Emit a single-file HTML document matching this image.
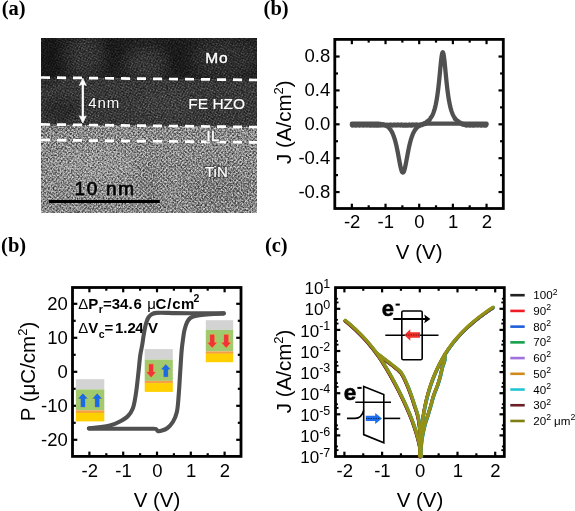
<!DOCTYPE html>
<html><head><meta charset="utf-8"><style>
html,body{margin:0;padding:0;background:#fff;}
svg{display:block;will-change:transform;}
</style></head><body>
<svg width="575" height="511" viewBox="0 0 575 511">
<rect width="575" height="511" fill="#fff"/>
<text x="1.8" y="15.0" font-family='"Liberation Serif", serif' font-weight="bold" font-size="20.5">(a)</text>
<text x="263.6" y="15.0" font-family='"Liberation Serif", serif' font-weight="bold" font-size="20.5">(b)</text>
<text x="1.1" y="251.6" font-family='"Liberation Serif", serif' font-weight="bold" font-size="20.5">(b)</text>
<text x="264.9" y="251.6" font-family='"Liberation Serif", serif' font-weight="bold" font-size="20.5">(c)</text>
<defs>
<filter id="nz" x="0" y="0" width="100%" height="100%" color-interpolation-filters="sRGB"><feTurbulence type="fractalNoise" baseFrequency="0.6" numOctaves="2" seed="5"/><feColorMatrix type="matrix" values="1 0 0 0 0  1 0 0 0 0  1 0 0 0 0  0 0 0 0 1"/><feComponentTransfer><feFuncR type="linear" slope="2.0" intercept="-0.5"/><feFuncG type="linear" slope="2.0" intercept="-0.5"/><feFuncB type="linear" slope="2.0" intercept="-0.5"/></feComponentTransfer></filter>
<filter id="nzc" x="0" y="0" width="100%" height="100%" color-interpolation-filters="sRGB"><feTurbulence type="fractalNoise" baseFrequency="0.05" numOctaves="2" seed="11"/><feColorMatrix type="matrix" values="1 0 0 0 0  1 0 0 0 0  1 0 0 0 0  0 0 0 0 1"/><feComponentTransfer><feFuncR type="linear" slope="1.8" intercept="-0.4"/><feFuncG type="linear" slope="1.8" intercept="-0.4"/><feFuncB type="linear" slope="1.8" intercept="-0.4"/></feComponentTransfer></filter>
<filter id="nz2" x="0" y="0" width="100%" height="100%" color-interpolation-filters="sRGB"><feTurbulence type="fractalNoise" baseFrequency="0.8" numOctaves="1" seed="17"/><feColorMatrix type="matrix" values="1 0 0 0 0  1 0 0 0 0  1 0 0 0 0  0 0 0 0 1"/><feComponentTransfer><feFuncR type="gamma" amplitude="1" exponent="3" offset="0"/><feFuncG type="gamma" amplitude="1" exponent="3" offset="0"/><feFuncB type="gamma" amplitude="1" exponent="3" offset="0"/></feComponentTransfer><feComponentTransfer><feFuncR type="linear" slope="3.2" intercept="0.1"/><feFuncG type="linear" slope="3.2" intercept="0.1"/><feFuncB type="linear" slope="3.2" intercept="0.1"/></feComponentTransfer></filter>
<filter id="blur6"><feGaussianBlur stdDeviation="6"/></filter>
<radialGradient id="dot"><stop offset="0" stop-color="#fff"/><stop offset="0.55" stop-color="#aaa"/><stop offset="1" stop-color="#000"/></radialGradient>
<pattern id="lat1" width="2.9" height="2.9" patternUnits="userSpaceOnUse" patternTransform="rotate(42)"><rect width="2.9" height="2.9" fill="#000"/><circle cx="1.45" cy="1.45" r="1.45" fill="url(#dot)"/></pattern>
<pattern id="lat2" width="2.6" height="2.6" patternUnits="userSpaceOnUse" patternTransform="rotate(28)"><rect width="2.6" height="2.6" fill="#000"/><circle cx="1.3" cy="1.3" r="1.3" fill="url(#dot)"/></pattern>
<clipPath id="temclip"><rect x="41" y="38" width="216" height="175"/></clipPath>
<clipPath id="lowclip"><polygon points="41,124.4 257,127.1 257,213 41,213"/></clipPath>
<clipPath id="upclip"><polygon points="41,38 257,38 257,127.1 41,124.4"/></clipPath>
</defs>
<g clip-path="url(#temclip)">
<polygon points="41.0,38.0 257.0,38.0 257.0,80.0 41.0,77.5" fill="#242424" />
<polygon points="41.0,77.5 257.0,80.0 257.0,127.1 41.0,124.4" fill="#404040" />
<polygon points="41.0,124.4 257.0,127.1 257.0,142.4 41.0,140.0" fill="#949494" />
<polygon points="41.0,140.0 257.0,142.4 257.0,213.0 41.0,213.0" fill="#939393" />
<g filter="url(#blur6)">
<ellipse cx="50" cy="58" rx="10" ry="24" fill="#151515"/>
<ellipse cx="85" cy="56" rx="18" ry="22" fill="#3a3a3a"/>
<ellipse cx="113" cy="52" rx="10" ry="20" fill="#1e1e1e"/>
<ellipse cx="146" cy="64" rx="20" ry="16" fill="#3c3c3c"/>
<ellipse cx="178" cy="58" rx="12" ry="20" fill="#1a1a1a"/>
<ellipse cx="225" cy="58" rx="32" ry="20" fill="#343434"/>
<ellipse cx="165" cy="104" rx="28" ry="13" fill="#464646"/>
<ellipse cx="60" cy="110" rx="20" ry="12" fill="#2e2e2e"/>
<ellipse cx="225" cy="100" rx="30" ry="14" fill="#404040"/>
<ellipse cx="150" cy="185" rx="5" ry="25" fill="#858585"/>
<ellipse cx="220" cy="190" rx="35" ry="20" fill="#8a8a8a"/>
<ellipse cx="95" cy="165" rx="40" ry="18" fill="#9c9c9c"/>
</g>
<rect x="41" y="38" width="216" height="175" fill="url(#lat1)" opacity="0.38" style="mix-blend-mode:overlay" clip-path="url(#lowclip)"/>
<rect x="41" y="38" width="216" height="175" fill="url(#lat2)" opacity="0.35" style="mix-blend-mode:overlay" clip-path="url(#upclip)"/>
<rect x="41" y="38" width="216" height="175" filter="url(#nz)" opacity="0.45" style="mix-blend-mode:overlay"/>
<rect x="41" y="38" width="216" height="175" filter="url(#nz2)" opacity="0.4" style="mix-blend-mode:overlay" clip-path="url(#lowclip)"/>
</g>
<line x1="41" y1="77.5" x2="257" y2="80.0" stroke="#fff" stroke-width="2.7" stroke-dasharray="9 7"/>
<line x1="41" y1="124.4" x2="257" y2="127.1" stroke="#fff" stroke-width="2.7" stroke-dasharray="9 7"/>
<line x1="41" y1="140.0" x2="257" y2="142.4" stroke="#fff" stroke-width="2.7" stroke-dasharray="9 7"/>
<line x1="82.8" y1="82" x2="82.8" y2="119" stroke="#fff" stroke-width="2.2"/>
<polygon points="82.8,78.3 86.3,85.5 82.8,84.2 79.3,85.5" fill="#fff" stroke="#fff" stroke-width="0.6" stroke-linejoin="round"/>
<polygon points="82.8,123 86.3,115.8 82.8,117.1 79.3,115.8" fill="#fff" stroke="#fff" stroke-width="0.6" stroke-linejoin="round"/>
<text x="88.3" y="108.2" font-family='"Liberation Sans", sans-serif' font-size="15" letter-spacing="0.9" fill="none" stroke="#1a1a1a" stroke-opacity="0.5" stroke-width="2.2">4nm</text>
<text x="88.3" y="108.2" font-family='"Liberation Sans", sans-serif' font-size="15" letter-spacing="0.9" fill="#fff">4nm</text>
<text x="205.3" y="63.2" font-family='"Liberation Sans", sans-serif' font-size="15.5" letter-spacing="0.7" fill="none" stroke="#101010" stroke-opacity="0.5" stroke-width="2.4">Mo</text>
<text x="205.3" y="63.2" font-family='"Liberation Sans", sans-serif' font-size="15.5" letter-spacing="0.7" fill="#fff" stroke="#fff" stroke-width="0.45">Mo</text>
<text x="188.3" y="108.7" font-family='"Liberation Sans", sans-serif' font-size="15.5" stroke="#fff" stroke-width="0.15" fill="#fff">FE HZO</text>
<text x="206.6" y="141.3" font-family='"Liberation Sans", sans-serif' font-size="14.5" letter-spacing="0.4" fill="none" stroke="#303030" stroke-opacity="0.5" stroke-width="2.6">IL</text>
<text x="206.6" y="141.3" font-family='"Liberation Sans", sans-serif' font-size="14.5" letter-spacing="0.4" fill="#fff" stroke="#fff" stroke-width="0.5">IL</text>
<text x="205" y="177.2" font-family='"Liberation Sans", sans-serif' font-size="15" fill="none" stroke="#303030" stroke-opacity="0.5" stroke-width="2.4">TiN</text>
<text x="205" y="177.2" font-family='"Liberation Sans", sans-serif' font-size="15" fill="#fff" stroke="#fff" stroke-width="0.2">TiN</text>
<text x="74.5" y="195.2" font-family='"Liberation Sans", sans-serif' font-size="19" letter-spacing="1.7" fill="#fff" stroke="#e0e0e0" stroke-opacity="0.3" stroke-width="3.6" stroke-linejoin="round">10 nm</text>
<text x="74.5" y="195.2" font-family='"Liberation Sans", sans-serif' font-size="19" letter-spacing="1.7" fill="#000" stroke="#000" stroke-width="0.8" stroke-linejoin="round">10 nm</text>
<rect x="48.8" y="200" width="111" height="3" fill="#000"/>
<rect x="334.8" y="39.4" width="168.5" height="169.1" fill="none" stroke="#000" stroke-width="2.8"/>
<line x1="351.86" y1="39.4" x2="351.86" y2="44.199999999999996" stroke="#000" stroke-width="2.2"/>
<line x1="351.86" y1="208.5" x2="351.86" y2="203.7" stroke="#000" stroke-width="2.2"/>
<line x1="385.53" y1="39.4" x2="385.53" y2="44.199999999999996" stroke="#000" stroke-width="2.2"/>
<line x1="385.53" y1="208.5" x2="385.53" y2="203.7" stroke="#000" stroke-width="2.2"/>
<line x1="419.20" y1="39.4" x2="419.20" y2="44.199999999999996" stroke="#000" stroke-width="2.2"/>
<line x1="419.20" y1="208.5" x2="419.20" y2="203.7" stroke="#000" stroke-width="2.2"/>
<line x1="452.87" y1="39.4" x2="452.87" y2="44.199999999999996" stroke="#000" stroke-width="2.2"/>
<line x1="452.87" y1="208.5" x2="452.87" y2="203.7" stroke="#000" stroke-width="2.2"/>
<line x1="486.54" y1="39.4" x2="486.54" y2="44.199999999999996" stroke="#000" stroke-width="2.2"/>
<line x1="486.54" y1="208.5" x2="486.54" y2="203.7" stroke="#000" stroke-width="2.2"/>
<line x1="368.69" y1="39.4" x2="368.69" y2="42.6" stroke="#000" stroke-width="2.2"/>
<line x1="368.69" y1="208.5" x2="368.69" y2="205.3" stroke="#000" stroke-width="2.2"/>
<line x1="402.37" y1="39.4" x2="402.37" y2="42.6" stroke="#000" stroke-width="2.2"/>
<line x1="402.37" y1="208.5" x2="402.37" y2="205.3" stroke="#000" stroke-width="2.2"/>
<line x1="436.03" y1="39.4" x2="436.03" y2="42.6" stroke="#000" stroke-width="2.2"/>
<line x1="436.03" y1="208.5" x2="436.03" y2="205.3" stroke="#000" stroke-width="2.2"/>
<line x1="469.70" y1="39.4" x2="469.70" y2="42.6" stroke="#000" stroke-width="2.2"/>
<line x1="469.70" y1="208.5" x2="469.70" y2="205.3" stroke="#000" stroke-width="2.2"/>
<line x1="334.8" y1="56.54" x2="339.6" y2="56.54" stroke="#000" stroke-width="2.2"/>
<line x1="503.3" y1="56.54" x2="498.5" y2="56.54" stroke="#000" stroke-width="2.2"/>
<line x1="334.8" y1="90.42" x2="339.6" y2="90.42" stroke="#000" stroke-width="2.2"/>
<line x1="503.3" y1="90.42" x2="498.5" y2="90.42" stroke="#000" stroke-width="2.2"/>
<line x1="334.8" y1="124.30" x2="339.6" y2="124.30" stroke="#000" stroke-width="2.2"/>
<line x1="503.3" y1="124.30" x2="498.5" y2="124.30" stroke="#000" stroke-width="2.2"/>
<line x1="334.8" y1="158.18" x2="339.6" y2="158.18" stroke="#000" stroke-width="2.2"/>
<line x1="503.3" y1="158.18" x2="498.5" y2="158.18" stroke="#000" stroke-width="2.2"/>
<line x1="334.8" y1="192.06" x2="339.6" y2="192.06" stroke="#000" stroke-width="2.2"/>
<line x1="503.3" y1="192.06" x2="498.5" y2="192.06" stroke="#000" stroke-width="2.2"/>
<line x1="334.8" y1="73.48" x2="338.0" y2="73.48" stroke="#000" stroke-width="2.2"/>
<line x1="503.3" y1="73.48" x2="500.1" y2="73.48" stroke="#000" stroke-width="2.2"/>
<line x1="334.8" y1="107.36" x2="338.0" y2="107.36" stroke="#000" stroke-width="2.2"/>
<line x1="503.3" y1="107.36" x2="500.1" y2="107.36" stroke="#000" stroke-width="2.2"/>
<line x1="334.8" y1="141.24" x2="338.0" y2="141.24" stroke="#000" stroke-width="2.2"/>
<line x1="503.3" y1="141.24" x2="500.1" y2="141.24" stroke="#000" stroke-width="2.2"/>
<line x1="334.8" y1="175.12" x2="338.0" y2="175.12" stroke="#000" stroke-width="2.2"/>
<line x1="503.3" y1="175.12" x2="500.1" y2="175.12" stroke="#000" stroke-width="2.2"/>
<text x="352.16" y="228.20" font-family='"Liberation Sans", sans-serif' font-size="18.5" text-anchor="middle" font-weight="normal" fill="#000" >-2</text>
<text x="385.83" y="228.20" font-family='"Liberation Sans", sans-serif' font-size="18.5" text-anchor="middle" font-weight="normal" fill="#000" >-1</text>
<text x="419.50" y="228.20" font-family='"Liberation Sans", sans-serif' font-size="18.5" text-anchor="middle" font-weight="normal" fill="#000" >0</text>
<text x="453.17" y="228.20" font-family='"Liberation Sans", sans-serif' font-size="18.5" text-anchor="middle" font-weight="normal" fill="#000" >1</text>
<text x="486.84" y="228.20" font-family='"Liberation Sans", sans-serif' font-size="18.5" text-anchor="middle" font-weight="normal" fill="#000" >2</text>
<text x="330.30" y="62.14" font-family='"Liberation Sans", sans-serif' font-size="18.5" text-anchor="end" font-weight="normal" fill="#000" >0.8</text>
<text x="330.30" y="96.02" font-family='"Liberation Sans", sans-serif' font-size="18.5" text-anchor="end" font-weight="normal" fill="#000" >0.4</text>
<text x="330.30" y="129.90" font-family='"Liberation Sans", sans-serif' font-size="18.5" text-anchor="end" font-weight="normal" fill="#000" >0.0</text>
<text x="330.30" y="163.78" font-family='"Liberation Sans", sans-serif' font-size="18.5" text-anchor="end" font-weight="normal" fill="#000" >-0.4</text>
<text x="330.30" y="197.66" font-family='"Liberation Sans", sans-serif' font-size="18.5" text-anchor="end" font-weight="normal" fill="#000" >-0.8</text>
<text x="419.20" y="259.20" font-family='"Liberation Sans", sans-serif' font-size="20.5" text-anchor="middle" font-weight="normal" fill="#000" >V (V)</text>
<text transform="translate(290.5,122.2) rotate(-90)" font-family='"Liberation Sans", sans-serif' font-size="20.5" text-anchor="middle">J (A/cm<tspan font-size="13" dy="-8">2</tspan><tspan dy="8">)</tspan></text>
<path d="M351.86,125.06 L352.20,125.49 L352.53,124.92 L352.87,124.63 L353.21,125.17 L353.54,124.97 L353.88,125.34 L354.22,125.40 L354.55,124.64 L354.89,124.96 L355.23,125.00 L355.56,125.01 L355.90,125.60 L356.24,125.01 L356.57,124.77 L356.91,125.06 L357.25,124.78 L357.58,125.37 L357.92,125.45 L358.26,124.80 L358.59,125.04 L358.93,124.80 L359.27,124.91 L359.60,125.59 L359.94,125.08 L360.28,124.98 L360.61,125.01 L360.95,124.61 L361.29,125.31 L361.62,125.40 L361.96,124.97 L362.30,125.19 L362.63,124.68 L362.97,124.82 L363.31,125.49 L363.64,125.10 L363.98,125.21 L364.32,125.03 L364.65,124.52 L364.99,125.21 L365.33,125.27 L365.66,125.12 L366.00,125.36 L366.34,124.66 L366.67,124.78 L367.01,125.31 L367.35,125.05 L367.68,125.41 L368.02,125.11 L368.36,124.55 L368.69,125.12 L369.03,125.07 L369.37,125.19 L369.71,125.50 L370.04,124.72 L370.38,124.82 L370.72,125.11 L371.05,124.94 L371.39,125.53 L371.73,125.19 L372.06,124.67 L372.40,125.07 L372.74,124.84 L373.07,125.20 L373.41,125.56 L373.75,124.84 L374.08,124.94 L374.42,124.93 L374.76,124.80 L375.09,125.54 L375.43,125.23 L375.77,124.87 L376.10,125.08 L376.44,124.65 L376.78,125.14 L377.11,125.53 L377.45,124.97 L377.79,125.13 L378.12,124.83 L378.46,124.68 L378.80,125.46 L379.13,125.21 L379.47,125.09 L379.81,125.15 L380.14,124.54 L380.48,125.06 L380.82,125.39 L381.15,125.06 L381.49,125.34 L381.83,124.82 L382.16,124.63 L382.50,125.32 L382.84,125.11 L383.17,125.28 L383.51,125.26 L383.85,124.54 L384.18,125.00 L384.52,125.18 L384.86,125.08 L385.19,125.51 L385.53,124.87 L385.87,124.67 L386.20,125.16 L386.54,124.94 L386.88,125.39 L387.21,125.36 L387.55,124.64 L387.89,125.00 L388.22,124.95 L388.56,125.04 L388.90,125.61 L389.23,124.96 L389.57,124.82 L389.91,125.03 L390.24,124.76 L390.58,125.42 L390.92,125.40 L391.25,124.81 L391.59,125.07 L391.93,124.75 L392.26,124.96 L392.60,125.59 L392.94,125.04 L393.27,125.03 L393.61,124.97 L393.95,124.61 L394.28,125.35 L394.62,125.35 L394.96,125.00 L395.29,125.20 L395.63,124.64 L395.97,124.87 L396.30,125.47 L396.64,125.08 L396.98,125.26 L397.31,124.99 L397.65,124.54 L397.99,125.25 L398.32,125.22 L398.66,125.15 L399.00,125.35 L399.33,124.62 L399.67,124.83 L400.01,125.28 L400.34,125.04 L400.68,125.45 L401.02,125.05 L401.35,124.57 L401.69,125.14 L402.03,125.02 L402.37,125.24 L402.70,125.48 L403.04,124.69 L403.38,124.87 L403.71,125.07 L404.05,124.94 L404.39,125.56 L404.72,125.13 L405.06,124.70 L405.40,125.07 L405.73,124.80 L406.07,125.25 L406.41,125.54 L406.74,124.83 L407.08,124.99 L407.42,124.89 L407.75,124.82 L408.09,125.56 L408.43,125.18 L408.76,124.91 L409.10,125.07 L409.44,124.62 L409.77,125.19 L410.11,125.49 L410.45,124.97 L410.78,125.17 L411.12,124.78 L411.46,124.71 L411.79,125.47 L412.13,125.17 L412.47,125.14 L412.80,125.13 L413.14,124.52 L413.48,125.10 L413.81,125.35 L414.15,125.07 L414.49,125.36 L414.82,124.77 L415.16,124.67 L415.50,125.31 L415.83,125.07 L416.17,125.33 L416.51,125.23 L416.84,124.54 L417.18,125.04 L417.52,125.13 L417.85,125.11 L418.19,125.53 L418.53,124.83 L418.86,124.72 L419.20,125.14 L419.54,124.92 L419.87,125.44 L420.21,125.22 L420.55,124.47 L420.88,124.75 L421.22,124.52 L421.56,124.59 L421.89,125.01 L422.23,124.21 L422.57,124.03 L422.90,124.04 L423.24,123.66 L423.58,124.23 L423.91,123.97 L424.25,123.30 L424.59,123.39 L424.92,122.84 L425.26,122.96 L425.60,123.34 L425.93,122.58 L426.27,122.43 L426.61,122.07 L426.94,121.51 L427.28,122.04 L427.62,121.69 L427.95,121.14 L428.29,121.01 L428.63,120.09 L428.96,120.08 L429.30,120.24 L429.64,119.48 L429.97,119.31 L430.31,118.52 L430.65,117.67 L430.98,117.68 L431.32,117.14 L431.66,116.57 L431.99,115.95 L432.33,115.29 L432.67,114.57 L433.00,113.80 L433.34,112.96 L433.68,112.06 L434.01,111.08 L434.35,110.02 L434.69,108.87 L435.02,107.62 L435.36,106.26 L435.70,104.79 L436.03,103.18 L436.37,101.43 L436.71,99.53 L437.05,97.46 L437.38,95.22 L437.72,92.80 L438.06,90.19 L438.39,87.38 L438.73,84.38 L439.07,81.20 L439.40,77.87 L439.74,74.42 L440.08,70.91 L440.41,67.41 L440.75,64.00 L441.09,60.81 L441.42,57.95 L441.76,55.55 L442.10,53.74 L442.43,52.61 L442.77,52.22 L443.11,52.61 L443.44,53.74 L443.78,55.55 L444.12,57.95 L444.45,60.81 L444.79,64.00 L445.13,67.41 L445.46,70.91 L445.80,74.42 L446.14,77.87 L446.47,81.20 L446.81,84.38 L447.15,87.38 L447.48,90.19 L447.82,92.80 L448.16,95.22 L448.49,97.46 L448.83,99.53 L449.17,101.43 L449.50,103.18 L449.84,104.79 L450.18,106.26 L450.51,107.62 L450.85,108.87 L451.19,110.02 L451.52,111.08 L451.86,112.06 L452.20,112.96 L452.53,113.80 L452.87,114.57 L453.21,115.29 L453.54,115.95 L453.88,116.57 L454.22,117.14 L454.55,117.68 L454.89,118.71 L455.23,118.47 L455.56,118.93 L455.90,119.39 L456.24,119.56 L456.57,120.66 L456.91,120.79 L457.25,120.67 L457.58,121.20 L457.92,121.05 L458.26,121.71 L458.59,122.45 L458.93,122.13 L459.27,122.48 L459.60,122.45 L459.94,122.40 L460.28,123.37 L460.61,123.39 L460.95,123.38 L461.29,123.66 L461.62,123.19 L461.96,123.74 L462.30,124.32 L462.63,124.10 L462.97,124.50 L463.31,124.18 L463.64,123.99 L463.98,124.80 L464.32,124.75 L464.65,124.97 L464.99,125.14 L465.33,124.48 L465.66,124.93 L466.00,125.20 L466.34,125.05 L466.67,125.51 L467.01,124.95 L467.35,124.64 L467.68,125.15 L468.02,124.94 L468.36,125.34 L468.69,125.42 L469.03,124.67 L469.37,124.96 L469.70,124.97 L470.04,124.98 L470.38,125.60 L470.72,125.03 L471.05,124.79 L471.39,125.05 L471.73,124.75 L472.06,125.35 L472.40,125.46 L472.74,124.83 L473.07,125.06 L473.41,124.79 L473.75,124.88 L474.08,125.58 L474.42,125.10 L474.76,125.01 L475.09,125.02 L475.43,124.59 L475.77,125.29 L476.10,125.40 L476.44,125.00 L476.78,125.22 L477.11,124.68 L477.45,124.80 L477.79,125.46 L478.12,125.10 L478.46,125.24 L478.80,125.06 L479.13,124.52 L479.47,125.19 L479.81,125.25 L480.14,125.13 L480.48,125.39 L480.82,124.67 L481.15,124.77 L481.49,125.28 L481.83,125.03 L482.16,125.42 L482.50,125.13 L482.84,124.56 L483.17,125.10 L483.51,125.04 L483.85,125.19 L484.18,125.52 L484.52,124.75 L484.86,124.82 L485.19,125.08 L485.53,124.91 L485.87,125.53 L486.20,125.21 L486.54,124.69" fill="none" stroke="#505050" stroke-width="4.3" stroke-linecap="round" stroke-linejoin="round"/>
<path d="M486.54,123.54 L486.20,123.54 L485.87,123.54 L485.53,123.54 L485.19,123.54 L484.86,123.54 L484.52,123.54 L484.18,123.54 L483.85,123.54 L483.51,123.54 L483.17,123.54 L482.84,123.54 L482.50,123.54 L482.16,123.54 L481.83,123.54 L481.49,123.54 L481.15,123.54 L480.82,123.54 L480.48,123.54 L480.14,123.54 L479.81,123.54 L479.47,123.54 L479.13,123.54 L478.80,123.54 L478.46,123.54 L478.12,123.54 L477.79,123.54 L477.45,123.54 L477.11,123.54 L476.78,123.54 L476.44,123.54 L476.10,123.54 L475.77,123.54 L475.43,123.54 L475.09,123.54 L474.76,123.54 L474.42,123.54 L474.08,123.54 L473.75,123.54 L473.41,123.54 L473.07,123.54 L472.74,123.54 L472.40,123.54 L472.06,123.54 L471.73,123.54 L471.39,123.54 L471.05,123.54 L470.72,123.54 L470.38,123.54 L470.04,123.54 L469.70,123.54 L469.37,123.54 L469.03,123.54 L468.69,123.54 L468.36,123.54 L468.02,123.54 L467.68,123.54 L467.35,123.54 L467.01,123.54 L466.67,123.54 L466.34,123.54 L466.00,123.54 L465.66,123.54 L465.33,123.54 L464.99,123.54 L464.65,123.54 L464.32,123.54 L463.98,123.54 L463.64,123.54 L463.31,123.54 L462.97,123.54 L462.63,123.54 L462.30,123.54 L461.96,123.54 L461.62,123.54 L461.29,123.54 L460.95,123.54 L460.61,123.54 L460.28,123.54 L459.94,123.54 L459.60,123.54 L459.27,123.54 L458.93,123.54 L458.59,123.54 L458.26,123.54 L457.92,123.54 L457.58,123.54 L457.25,123.54 L456.91,123.54 L456.57,123.54 L456.24,123.54 L455.90,123.54 L455.56,123.54 L455.23,123.54 L454.89,123.54 L454.55,123.54 L454.22,123.54 L453.88,123.54 L453.54,123.54 L453.21,123.54 L452.87,123.54 L452.53,123.54 L452.20,123.54 L451.86,123.54 L451.52,123.54 L451.19,123.54 L450.85,123.54 L450.51,123.54 L450.18,123.54 L449.84,123.54 L449.50,123.54 L449.17,123.54 L448.83,123.54 L448.49,123.54 L448.16,123.54 L447.82,123.54 L447.48,123.54 L447.15,123.54 L446.81,123.54 L446.47,123.54 L446.14,123.54 L445.80,123.54 L445.46,123.54 L445.13,123.54 L444.79,123.54 L444.45,123.54 L444.12,123.54 L443.78,123.54 L443.44,123.54 L443.11,123.54 L442.77,123.54 L442.43,123.54 L442.10,123.54 L441.76,123.54 L441.42,123.54 L441.09,123.54 L440.75,123.54 L440.41,123.54 L440.08,123.54 L439.74,123.54 L439.40,123.54 L439.07,123.54 L438.73,123.54 L438.39,123.54 L438.06,123.54 L437.72,123.54 L437.38,123.54 L437.05,123.54 L436.71,123.54 L436.37,123.54 L436.03,123.54 L435.70,123.54 L435.36,123.54 L435.02,123.54 L434.69,123.54 L434.35,123.54 L434.01,123.54 L433.68,123.54 L433.34,123.54 L433.00,123.54 L432.67,123.54 L432.33,123.54 L431.99,123.54 L431.66,123.54 L431.32,123.54 L430.98,123.54 L430.65,123.54 L430.31,123.54 L429.97,123.54 L429.64,123.54 L429.30,123.54 L428.96,123.55 L428.63,123.57 L428.29,123.60 L427.95,123.63 L427.62,123.66 L427.28,123.69 L426.94,123.73 L426.61,123.77 L426.27,123.81 L425.93,123.85 L425.60,123.90 L425.26,123.95 L424.92,124.00 L424.59,124.06 L424.25,124.13 L423.91,124.20 L423.58,124.27 L423.24,124.35 L422.90,124.44 L422.57,124.53 L422.23,124.63 L421.89,124.74 L421.56,124.85 L421.22,124.98 L420.88,125.11 L420.55,125.25 L420.21,125.41 L419.87,125.58 L419.54,125.76 L419.20,125.95 L418.86,126.16 L418.53,126.38 L418.19,126.63 L417.85,126.89 L417.52,127.17 L417.18,127.47 L416.84,127.79 L416.51,128.14 L416.17,128.52 L415.83,128.92 L415.50,129.36 L415.16,129.82 L414.82,130.32 L414.49,130.86 L414.15,131.44 L413.81,132.06 L413.48,132.73 L413.14,133.44 L412.80,134.21 L412.47,135.03 L412.13,135.91 L411.79,136.85 L411.46,137.85 L411.12,138.92 L410.78,140.05 L410.45,141.26 L410.11,142.54 L409.77,143.90 L409.44,145.32 L409.10,146.82 L408.76,148.39 L408.43,150.03 L408.09,151.73 L407.75,153.48 L407.42,155.27 L407.08,157.08 L406.74,158.91 L406.41,160.74 L406.07,162.53 L405.73,164.26 L405.40,165.91 L405.06,167.44 L404.72,168.83 L404.39,170.04 L404.05,171.05 L403.71,171.83 L403.38,172.36 L403.04,172.63 L402.70,172.63 L402.37,172.36 L402.03,171.83 L401.69,171.05 L401.35,170.04 L401.02,168.83 L400.68,167.44 L400.34,165.91 L400.01,164.26 L399.67,162.53 L399.33,160.74 L399.00,158.91 L398.66,157.08 L398.32,155.27 L397.99,153.48 L397.65,151.73 L397.31,150.03 L396.98,148.39 L396.64,146.82 L396.30,145.32 L395.97,143.90 L395.63,142.54 L395.29,141.26 L394.96,140.05 L394.62,138.92 L394.28,137.85 L393.95,136.85 L393.61,135.91 L393.27,135.03 L392.94,134.21 L392.60,133.44 L392.26,132.73 L391.93,132.06 L391.59,131.44 L391.25,130.86 L390.92,130.32 L390.58,129.82 L390.24,129.36 L389.91,128.92 L389.57,128.52 L389.23,128.14 L388.90,127.79 L388.56,127.47 L388.22,127.17 L387.89,126.89 L387.55,126.63 L387.21,126.38 L386.88,126.16 L386.54,125.95 L386.20,125.76 L385.87,125.58 L385.53,125.41 L385.19,125.25 L384.86,125.11 L384.52,124.98 L384.18,124.85 L383.85,124.74 L383.51,124.63 L383.17,124.53 L382.84,124.44 L382.50,124.35 L382.16,124.27 L381.83,124.20 L381.49,124.13 L381.15,124.06 L380.82,124.00 L380.48,123.95 L380.14,123.90 L379.81,123.85 L379.47,123.81 L379.13,123.77 L378.80,123.73 L378.46,123.69 L378.12,123.66 L377.79,123.63 L377.45,123.60 L377.11,123.57 L376.78,123.55 L376.44,123.54 L376.10,123.54 L375.77,123.54 L375.43,123.54 L375.09,123.54 L374.76,123.54 L374.42,123.54 L374.08,123.54 L373.75,123.54 L373.41,123.54 L373.07,123.54 L372.74,123.54 L372.40,123.54 L372.06,123.54 L371.73,123.54 L371.39,123.54 L371.05,123.54 L370.72,123.54 L370.38,123.54 L370.04,123.54 L369.71,123.54 L369.37,123.54 L369.03,123.54 L368.69,123.54 L368.36,123.54 L368.02,123.54 L367.68,123.54 L367.35,123.54 L367.01,123.54 L366.67,123.54 L366.34,123.54 L366.00,123.54 L365.66,123.54 L365.33,123.54 L364.99,123.54 L364.65,123.54 L364.32,123.54 L363.98,123.54 L363.64,123.54 L363.31,123.54 L362.97,123.54 L362.63,123.54 L362.30,123.54 L361.96,123.54 L361.62,123.54 L361.29,123.54 L360.95,123.54 L360.61,123.54 L360.28,123.54 L359.94,123.54 L359.60,123.54 L359.27,123.54 L358.93,123.54 L358.59,123.54 L358.26,123.54 L357.92,123.54 L357.58,123.54 L357.25,123.54 L356.91,123.54 L356.57,123.54 L356.24,123.54 L355.90,123.54 L355.56,123.54 L355.23,123.54 L354.89,123.54 L354.55,123.54 L354.22,123.54 L353.88,123.54 L353.54,123.54 L353.21,123.54 L352.87,123.54 L352.53,123.54 L352.20,123.54 L351.86,123.54" fill="none" stroke="#505050" stroke-width="4.3" stroke-linecap="round" stroke-linejoin="round"/>
<rect x="72.5" y="287.5" width="168.5" height="168.89999999999998" fill="none" stroke="#000" stroke-width="2.8"/>
<line x1="89.40" y1="287.5" x2="89.40" y2="292.3" stroke="#000" stroke-width="2.2"/>
<line x1="89.40" y1="456.4" x2="89.40" y2="451.59999999999997" stroke="#000" stroke-width="2.2"/>
<line x1="123.20" y1="287.5" x2="123.20" y2="292.3" stroke="#000" stroke-width="2.2"/>
<line x1="123.20" y1="456.4" x2="123.20" y2="451.59999999999997" stroke="#000" stroke-width="2.2"/>
<line x1="157.00" y1="287.5" x2="157.00" y2="292.3" stroke="#000" stroke-width="2.2"/>
<line x1="157.00" y1="456.4" x2="157.00" y2="451.59999999999997" stroke="#000" stroke-width="2.2"/>
<line x1="190.80" y1="287.5" x2="190.80" y2="292.3" stroke="#000" stroke-width="2.2"/>
<line x1="190.80" y1="456.4" x2="190.80" y2="451.59999999999997" stroke="#000" stroke-width="2.2"/>
<line x1="224.60" y1="287.5" x2="224.60" y2="292.3" stroke="#000" stroke-width="2.2"/>
<line x1="224.60" y1="456.4" x2="224.60" y2="451.59999999999997" stroke="#000" stroke-width="2.2"/>
<line x1="106.30" y1="287.5" x2="106.30" y2="290.7" stroke="#000" stroke-width="2.2"/>
<line x1="106.30" y1="456.4" x2="106.30" y2="453.2" stroke="#000" stroke-width="2.2"/>
<line x1="140.10" y1="287.5" x2="140.10" y2="290.7" stroke="#000" stroke-width="2.2"/>
<line x1="140.10" y1="456.4" x2="140.10" y2="453.2" stroke="#000" stroke-width="2.2"/>
<line x1="173.90" y1="287.5" x2="173.90" y2="290.7" stroke="#000" stroke-width="2.2"/>
<line x1="173.90" y1="456.4" x2="173.90" y2="453.2" stroke="#000" stroke-width="2.2"/>
<line x1="207.70" y1="287.5" x2="207.70" y2="290.7" stroke="#000" stroke-width="2.2"/>
<line x1="207.70" y1="456.4" x2="207.70" y2="453.2" stroke="#000" stroke-width="2.2"/>
<line x1="72.5" y1="303.80" x2="77.3" y2="303.80" stroke="#000" stroke-width="2.2"/>
<line x1="241.0" y1="303.80" x2="236.2" y2="303.80" stroke="#000" stroke-width="2.2"/>
<line x1="72.5" y1="337.80" x2="77.3" y2="337.80" stroke="#000" stroke-width="2.2"/>
<line x1="241.0" y1="337.80" x2="236.2" y2="337.80" stroke="#000" stroke-width="2.2"/>
<line x1="72.5" y1="371.80" x2="77.3" y2="371.80" stroke="#000" stroke-width="2.2"/>
<line x1="241.0" y1="371.80" x2="236.2" y2="371.80" stroke="#000" stroke-width="2.2"/>
<line x1="72.5" y1="405.80" x2="77.3" y2="405.80" stroke="#000" stroke-width="2.2"/>
<line x1="241.0" y1="405.80" x2="236.2" y2="405.80" stroke="#000" stroke-width="2.2"/>
<line x1="72.5" y1="439.80" x2="77.3" y2="439.80" stroke="#000" stroke-width="2.2"/>
<line x1="241.0" y1="439.80" x2="236.2" y2="439.80" stroke="#000" stroke-width="2.2"/>
<line x1="72.5" y1="320.80" x2="75.7" y2="320.80" stroke="#000" stroke-width="2.2"/>
<line x1="241.0" y1="320.80" x2="237.8" y2="320.80" stroke="#000" stroke-width="2.2"/>
<line x1="72.5" y1="354.80" x2="75.7" y2="354.80" stroke="#000" stroke-width="2.2"/>
<line x1="241.0" y1="354.80" x2="237.8" y2="354.80" stroke="#000" stroke-width="2.2"/>
<line x1="72.5" y1="388.80" x2="75.7" y2="388.80" stroke="#000" stroke-width="2.2"/>
<line x1="241.0" y1="388.80" x2="237.8" y2="388.80" stroke="#000" stroke-width="2.2"/>
<line x1="72.5" y1="422.80" x2="75.7" y2="422.80" stroke="#000" stroke-width="2.2"/>
<line x1="241.0" y1="422.80" x2="237.8" y2="422.80" stroke="#000" stroke-width="2.2"/>
<text x="89.70" y="477.30" font-family='"Liberation Sans", sans-serif' font-size="18.5" text-anchor="middle" font-weight="normal" fill="#000" >-2</text>
<text x="123.50" y="477.30" font-family='"Liberation Sans", sans-serif' font-size="18.5" text-anchor="middle" font-weight="normal" fill="#000" >-1</text>
<text x="157.30" y="477.30" font-family='"Liberation Sans", sans-serif' font-size="18.5" text-anchor="middle" font-weight="normal" fill="#000" >0</text>
<text x="191.10" y="477.30" font-family='"Liberation Sans", sans-serif' font-size="18.5" text-anchor="middle" font-weight="normal" fill="#000" >1</text>
<text x="224.90" y="477.30" font-family='"Liberation Sans", sans-serif' font-size="18.5" text-anchor="middle" font-weight="normal" fill="#000" >2</text>
<text x="67.80" y="310.00" font-family='"Liberation Sans", sans-serif' font-size="18.5" text-anchor="end" font-weight="normal" fill="#000" >20</text>
<text x="67.80" y="344.00" font-family='"Liberation Sans", sans-serif' font-size="18.5" text-anchor="end" font-weight="normal" fill="#000" >10</text>
<text x="67.80" y="378.00" font-family='"Liberation Sans", sans-serif' font-size="18.5" text-anchor="end" font-weight="normal" fill="#000" >0</text>
<text x="67.80" y="412.00" font-family='"Liberation Sans", sans-serif' font-size="18.5" text-anchor="end" font-weight="normal" fill="#000" >-10</text>
<text x="67.80" y="446.00" font-family='"Liberation Sans", sans-serif' font-size="18.5" text-anchor="end" font-weight="normal" fill="#000" >-20</text>
<text x="157.00" y="506.80" font-family='"Liberation Sans", sans-serif' font-size="20.5" text-anchor="middle" font-weight="normal" fill="#000" >V (V)</text>
<text transform="translate(34.5,371.5) rotate(-90)" font-family='"Liberation Sans", sans-serif' font-size="20.5" text-anchor="middle">P (μC/cm<tspan font-size="13" dy="-8">2</tspan><tspan dy="8">)</tspan></text>
<text x="78.2" y="309.3" font-family='"Liberation Sans", sans-serif' font-weight="bold" font-size="15"><tspan font-weight="normal">Δ</tspan>P<tspan font-size="10.5" dy="3.6" dx="0.5">r</tspan><tspan dy="-3.6" dx="0.2">=3</tspan><tspan dx="-0.2">4</tspan><tspan dx="0.3">.</tspan><tspan dx="0.7">6 </tspan><tspan font-weight="normal" dx="1.2">μ</tspan><tspan dx="-0.4">C</tspan><tspan dx="0.9">/</tspan><tspan dx="1.0">c</tspan><tspan dx="0.3">m</tspan><tspan font-size="10.5" dy="-7.2" dx="-0.9">2</tspan></text>
<text x="78.2" y="333.4" font-family='"Liberation Sans", sans-serif' font-weight="bold" font-size="15"><tspan font-weight="normal">Δ</tspan>V<tspan font-size="10.5" dy="4.2" dx="0.5">c</tspan><tspan dy="-4.2" dx="-0.1">=</tspan><tspan dx="1.8">1</tspan><tspan dx="-0.2">.</tspan><tspan dx="0.2">2</tspan><tspan dx="-0.7">4 </tspan><tspan dx="0.2">V</tspan></text>
<path d="M223.80,313.40 C215.87,313.40 208.03,313.45 200.00,313.40 C191.77,313.35 182.71,313.19 175.00,313.10 C168.37,313.02 160.61,312.36 156.50,312.90 C154.39,313.17 153.16,313.42 151.80,314.20 C150.46,314.97 149.33,316.09 148.40,317.50 C147.27,319.21 146.62,321.51 145.90,324.00 C144.99,327.15 144.33,331.41 143.70,335.00 C143.10,338.41 142.77,341.67 142.20,345.00 C141.63,348.34 140.86,351.21 140.30,355.00 C139.58,359.91 139.19,365.91 138.50,372.00 C137.69,379.09 136.82,388.38 135.70,395.00 C134.84,400.09 134.32,404.67 132.80,408.40 C131.57,411.42 130.12,413.82 128.00,416.00 C125.73,418.34 122.43,420.20 119.40,421.80 C116.39,423.39 113.77,424.60 109.90,425.60 C104.32,427.05 95.83,427.40 88.80,428.30" fill="none" stroke="#505050" stroke-width="4.1" stroke-linecap="round" stroke-linejoin="round"/>
<path d="M89.00,428.60 C99.33,428.67 109.75,428.77 120.00,428.80 C130.08,428.83 143.82,428.70 150.00,428.80 C152.76,428.85 154.66,428.38 156.00,429.00 C156.90,429.42 156.97,430.68 157.80,431.00 C158.84,431.40 160.54,431.00 162.00,430.60 C163.75,430.12 165.79,429.28 167.50,428.00 C169.50,426.50 171.50,424.24 173.00,421.80 C174.68,419.07 175.87,415.94 176.80,412.20 C178.00,407.36 178.16,401.16 178.70,395.00 C179.32,387.90 179.69,379.58 180.20,372.00 C180.69,364.58 181.15,355.90 181.70,350.00 C182.07,346.01 182.43,343.33 182.90,340.00 C183.37,336.66 183.73,333.12 184.50,330.00 C185.20,327.15 186.05,324.13 187.20,322.00 C188.09,320.35 188.83,319.04 190.30,318.00 C192.16,316.69 195.11,316.11 198.00,315.50 C201.52,314.76 205.86,314.64 210.00,314.30 C214.44,313.93 219.20,313.70 223.80,313.40" fill="none" stroke="#505050" stroke-width="4.1" stroke-linecap="round" stroke-linejoin="round"/>
<rect x="205.8" y="320.2" width="27.399999999999977" height="9.699999999999989" fill="#d3d3d3"/>
<rect x="205.8" y="329.9" width="27.399999999999977" height="21.5" fill="#a1ca6e"/>
<rect x="205.8" y="351.4" width="27.399999999999977" height="2.5000000000000453" fill="#f4a043"/>
<rect x="205.8" y="353.6" width="27.399999999999977" height="8.599999999999966" fill="#ffd000"/>
<polygon points="212.2,348.2 217.6,342.2 214.8,342.2 214.8,334.2 209.6,334.2 209.6,342.2 206.8,342.2" fill="#f0343a" stroke="#d8d040" stroke-width="0.7" stroke-opacity="0.8"/>
<polygon points="226.2,348.2 231.6,342.2 228.8,342.2 228.8,334.2 223.6,334.2 223.6,342.2 220.8,342.2" fill="#f0343a" stroke="#d8d040" stroke-width="0.7" stroke-opacity="0.8"/>
<rect x="144.7" y="349.1" width="28.100000000000023" height="10.5" fill="#d3d3d3"/>
<rect x="144.7" y="359.6" width="28.100000000000023" height="21.299999999999955" fill="#a1ca6e"/>
<rect x="144.7" y="380.9" width="28.100000000000023" height="2.5000000000000453" fill="#f4a043"/>
<rect x="144.7" y="383.1" width="28.100000000000023" height="8.799999999999955" fill="#ffd000"/>
<polygon points="151.1,377.8 156.5,371.8 153.7,371.8 153.7,363.8 148.5,363.8 148.5,371.8 145.7,371.8" fill="#f0343a" stroke="#d8d040" stroke-width="0.7" stroke-opacity="0.8"/>
<polygon points="165.8,363.8 171.2,369.8 168.4,369.8 168.4,377.3 163.2,377.3 163.2,369.8 160.4,369.8" fill="#1a6ae6" stroke="#d8d040" stroke-width="0.7" stroke-opacity="0.8"/>
<rect x="75.9" y="379.2" width="28.39999999999999" height="10.199999999999989" fill="#d3d3d3"/>
<rect x="75.9" y="389.4" width="28.39999999999999" height="20.900000000000034" fill="#a1ca6e"/>
<rect x="75.9" y="410.3" width="28.39999999999999" height="2.8" fill="#f4a043"/>
<rect x="75.9" y="412.8" width="28.39999999999999" height="8.599999999999966" fill="#ffd000"/>
<polygon points="82.9,392.9 88.3,398.9 85.5,398.9 85.5,407.6 80.3,407.6 80.3,398.9 77.5,398.9" fill="#1a6ae6" stroke="#d8d040" stroke-width="0.7" stroke-opacity="0.8"/>
<polygon points="97.2,392.9 102.6,398.9 99.8,398.9 99.8,407.6 94.6,407.6 94.6,398.9 91.8,398.9" fill="#1a6ae6" stroke="#d8d040" stroke-width="0.7" stroke-opacity="0.8"/>
<rect x="335.5" y="287.6" width="168.8" height="168.89999999999998" fill="none" stroke="#000" stroke-width="2.8"/>
<line x1="344.40" y1="287.6" x2="344.40" y2="292.40000000000003" stroke="#000" stroke-width="2.2"/>
<line x1="344.40" y1="456.5" x2="344.40" y2="451.7" stroke="#000" stroke-width="2.2"/>
<line x1="382.10" y1="287.6" x2="382.10" y2="292.40000000000003" stroke="#000" stroke-width="2.2"/>
<line x1="382.10" y1="456.5" x2="382.10" y2="451.7" stroke="#000" stroke-width="2.2"/>
<line x1="419.80" y1="287.6" x2="419.80" y2="292.40000000000003" stroke="#000" stroke-width="2.2"/>
<line x1="419.80" y1="456.5" x2="419.80" y2="451.7" stroke="#000" stroke-width="2.2"/>
<line x1="457.50" y1="287.6" x2="457.50" y2="292.40000000000003" stroke="#000" stroke-width="2.2"/>
<line x1="457.50" y1="456.5" x2="457.50" y2="451.7" stroke="#000" stroke-width="2.2"/>
<line x1="495.20" y1="287.6" x2="495.20" y2="292.40000000000003" stroke="#000" stroke-width="2.2"/>
<line x1="495.20" y1="456.5" x2="495.20" y2="451.7" stroke="#000" stroke-width="2.2"/>
<line x1="363.25" y1="287.6" x2="363.25" y2="290.8" stroke="#000" stroke-width="2.2"/>
<line x1="363.25" y1="456.5" x2="363.25" y2="453.3" stroke="#000" stroke-width="2.2"/>
<line x1="400.95" y1="287.6" x2="400.95" y2="290.8" stroke="#000" stroke-width="2.2"/>
<line x1="400.95" y1="456.5" x2="400.95" y2="453.3" stroke="#000" stroke-width="2.2"/>
<line x1="438.65" y1="287.6" x2="438.65" y2="290.8" stroke="#000" stroke-width="2.2"/>
<line x1="438.65" y1="456.5" x2="438.65" y2="453.3" stroke="#000" stroke-width="2.2"/>
<line x1="476.35" y1="287.6" x2="476.35" y2="290.8" stroke="#000" stroke-width="2.2"/>
<line x1="476.35" y1="456.5" x2="476.35" y2="453.3" stroke="#000" stroke-width="2.2"/>
<line x1="335.5" y1="435.40" x2="340.3" y2="435.40" stroke="#000" stroke-width="2.2"/>
<line x1="504.3" y1="435.40" x2="499.5" y2="435.40" stroke="#000" stroke-width="2.2"/>
<line x1="335.5" y1="414.30" x2="340.3" y2="414.30" stroke="#000" stroke-width="2.2"/>
<line x1="504.3" y1="414.30" x2="499.5" y2="414.30" stroke="#000" stroke-width="2.2"/>
<line x1="335.5" y1="393.20" x2="340.3" y2="393.20" stroke="#000" stroke-width="2.2"/>
<line x1="504.3" y1="393.20" x2="499.5" y2="393.20" stroke="#000" stroke-width="2.2"/>
<line x1="335.5" y1="372.10" x2="340.3" y2="372.10" stroke="#000" stroke-width="2.2"/>
<line x1="504.3" y1="372.10" x2="499.5" y2="372.10" stroke="#000" stroke-width="2.2"/>
<line x1="335.5" y1="351.00" x2="340.3" y2="351.00" stroke="#000" stroke-width="2.2"/>
<line x1="504.3" y1="351.00" x2="499.5" y2="351.00" stroke="#000" stroke-width="2.2"/>
<line x1="335.5" y1="329.90" x2="340.3" y2="329.90" stroke="#000" stroke-width="2.2"/>
<line x1="504.3" y1="329.90" x2="499.5" y2="329.90" stroke="#000" stroke-width="2.2"/>
<line x1="335.5" y1="308.80" x2="340.3" y2="308.80" stroke="#000" stroke-width="2.2"/>
<line x1="504.3" y1="308.80" x2="499.5" y2="308.80" stroke="#000" stroke-width="2.2"/>
<line x1="335.5" y1="450.15" x2="338.5" y2="450.15" stroke="#000" stroke-width="1.8"/>
<line x1="504.3" y1="450.15" x2="501.3" y2="450.15" stroke="#000" stroke-width="1.8"/>
<line x1="335.5" y1="446.43" x2="337.9" y2="446.43" stroke="#000" stroke-width="1.8"/>
<line x1="504.3" y1="446.43" x2="501.90000000000003" y2="446.43" stroke="#000" stroke-width="1.8"/>
<line x1="335.5" y1="429.05" x2="338.5" y2="429.05" stroke="#000" stroke-width="1.8"/>
<line x1="504.3" y1="429.05" x2="501.3" y2="429.05" stroke="#000" stroke-width="1.8"/>
<line x1="335.5" y1="425.33" x2="337.9" y2="425.33" stroke="#000" stroke-width="1.8"/>
<line x1="504.3" y1="425.33" x2="501.90000000000003" y2="425.33" stroke="#000" stroke-width="1.8"/>
<line x1="335.5" y1="407.95" x2="338.5" y2="407.95" stroke="#000" stroke-width="1.8"/>
<line x1="504.3" y1="407.95" x2="501.3" y2="407.95" stroke="#000" stroke-width="1.8"/>
<line x1="335.5" y1="404.23" x2="337.9" y2="404.23" stroke="#000" stroke-width="1.8"/>
<line x1="504.3" y1="404.23" x2="501.90000000000003" y2="404.23" stroke="#000" stroke-width="1.8"/>
<line x1="335.5" y1="386.85" x2="338.5" y2="386.85" stroke="#000" stroke-width="1.8"/>
<line x1="504.3" y1="386.85" x2="501.3" y2="386.85" stroke="#000" stroke-width="1.8"/>
<line x1="335.5" y1="383.13" x2="337.9" y2="383.13" stroke="#000" stroke-width="1.8"/>
<line x1="504.3" y1="383.13" x2="501.90000000000003" y2="383.13" stroke="#000" stroke-width="1.8"/>
<line x1="335.5" y1="365.75" x2="338.5" y2="365.75" stroke="#000" stroke-width="1.8"/>
<line x1="504.3" y1="365.75" x2="501.3" y2="365.75" stroke="#000" stroke-width="1.8"/>
<line x1="335.5" y1="362.03" x2="337.9" y2="362.03" stroke="#000" stroke-width="1.8"/>
<line x1="504.3" y1="362.03" x2="501.90000000000003" y2="362.03" stroke="#000" stroke-width="1.8"/>
<line x1="335.5" y1="344.65" x2="338.5" y2="344.65" stroke="#000" stroke-width="1.8"/>
<line x1="504.3" y1="344.65" x2="501.3" y2="344.65" stroke="#000" stroke-width="1.8"/>
<line x1="335.5" y1="340.93" x2="337.9" y2="340.93" stroke="#000" stroke-width="1.8"/>
<line x1="504.3" y1="340.93" x2="501.90000000000003" y2="340.93" stroke="#000" stroke-width="1.8"/>
<line x1="335.5" y1="323.55" x2="338.5" y2="323.55" stroke="#000" stroke-width="1.8"/>
<line x1="504.3" y1="323.55" x2="501.3" y2="323.55" stroke="#000" stroke-width="1.8"/>
<line x1="335.5" y1="319.83" x2="337.9" y2="319.83" stroke="#000" stroke-width="1.8"/>
<line x1="504.3" y1="319.83" x2="501.90000000000003" y2="319.83" stroke="#000" stroke-width="1.8"/>
<line x1="335.5" y1="302.45" x2="338.5" y2="302.45" stroke="#000" stroke-width="1.8"/>
<line x1="504.3" y1="302.45" x2="501.3" y2="302.45" stroke="#000" stroke-width="1.8"/>
<line x1="335.5" y1="298.73" x2="337.9" y2="298.73" stroke="#000" stroke-width="1.8"/>
<line x1="504.3" y1="298.73" x2="501.90000000000003" y2="298.73" stroke="#000" stroke-width="1.8"/>
<text x="344.70" y="477.30" font-family='"Liberation Sans", sans-serif' font-size="18.5" text-anchor="middle" font-weight="normal" fill="#000" >-2</text>
<text x="382.40" y="477.30" font-family='"Liberation Sans", sans-serif' font-size="18.5" text-anchor="middle" font-weight="normal" fill="#000" >-1</text>
<text x="420.10" y="477.30" font-family='"Liberation Sans", sans-serif' font-size="18.5" text-anchor="middle" font-weight="normal" fill="#000" >0</text>
<text x="457.80" y="477.30" font-family='"Liberation Sans", sans-serif' font-size="18.5" text-anchor="middle" font-weight="normal" fill="#000" >1</text>
<text x="495.50" y="477.30" font-family='"Liberation Sans", sans-serif' font-size="18.5" text-anchor="middle" font-weight="normal" fill="#000" >2</text>
<text x="330.3" y="294.30" font-family='"Liberation Sans", sans-serif' font-size="17" text-anchor="end">10<tspan font-size="12.5" dy="-6.4">1</tspan></text>
<text x="330.3" y="315.40" font-family='"Liberation Sans", sans-serif' font-size="17" text-anchor="end">10<tspan font-size="12.5" dy="-6.4">0</tspan></text>
<text x="330.3" y="336.50" font-family='"Liberation Sans", sans-serif' font-size="17" text-anchor="end">10<tspan font-size="12.5" dy="-6.4">-1</tspan></text>
<text x="330.3" y="357.60" font-family='"Liberation Sans", sans-serif' font-size="17" text-anchor="end">10<tspan font-size="12.5" dy="-6.4">-2</tspan></text>
<text x="330.3" y="378.70" font-family='"Liberation Sans", sans-serif' font-size="17" text-anchor="end">10<tspan font-size="12.5" dy="-6.4">-3</tspan></text>
<text x="330.3" y="399.80" font-family='"Liberation Sans", sans-serif' font-size="17" text-anchor="end">10<tspan font-size="12.5" dy="-6.4">-4</tspan></text>
<text x="330.3" y="420.90" font-family='"Liberation Sans", sans-serif' font-size="17" text-anchor="end">10<tspan font-size="12.5" dy="-6.4">-5</tspan></text>
<text x="330.3" y="442.00" font-family='"Liberation Sans", sans-serif' font-size="17" text-anchor="end">10<tspan font-size="12.5" dy="-6.4">-6</tspan></text>
<text x="330.3" y="463.10" font-family='"Liberation Sans", sans-serif' font-size="17" text-anchor="end">10<tspan font-size="12.5" dy="-6.4">-7</tspan></text>
<text x="420.00" y="506.80" font-family='"Liberation Sans", sans-serif' font-size="20.5" text-anchor="middle" font-weight="normal" fill="#000" >V (V)</text>
<text transform="translate(290.5,371.5) rotate(-90)" font-family='"Liberation Sans", sans-serif' font-size="20.5" text-anchor="middle">J (A/cm<tspan font-size="13" dy="-8">2</tspan><tspan dy="8">)</tspan></text>
<path d="M345.17,320.90 L347.63,322.93 L350.01,324.95 L352.32,326.98 L354.55,329.01 L356.71,331.03 L358.79,333.06 L360.81,335.09 L362.76,337.11 L364.65,339.14 L366.47,341.17 L368.24,343.20 L369.95,345.22 L371.60,347.25 L373.21,349.28 L374.76,351.30 L376.27,353.33 L377.73,355.36 L379.15,357.38 L380.54,359.41 L381.88,361.44 L383.19,363.46 L384.46,365.49 L385.71,367.52 L386.93,369.54 L388.12,371.57 L389.29,373.60 L390.44,375.63 L391.57,377.65 L392.68,379.68 L393.78,381.71 L394.87,383.73 L395.95,385.76 L397.01,387.79 L398.06,389.81 L399.10,391.84 L400.13,393.87 L401.14,395.89 L402.13,397.92 L403.11,399.95 L404.07,401.97 L405.01,404.00 L405.94,406.03 L406.85,408.06 L407.73,410.08 L408.60,412.11 L409.45,414.14 L410.27,416.16 L411.08,418.19 L411.86,420.22 L412.62,422.24 L413.35,424.27 L414.06,426.30 L414.75,428.32 L415.41,430.35 L416.04,432.38 L416.64,434.40 L417.22,436.43 L417.77,438.46 L418.29,440.49 L418.78,442.51 L419.25,444.54 L419.68,446.57 L420.07,448.59 L420.44,450.62 L420.77,452.65 L421.07,454.67 L421.34,456.70" fill="none" stroke="#333333" stroke-width="3.0" stroke-linecap="round" stroke-linejoin="round"/>
<path d="M376.18,353.20 C380.12,356.20 384.25,359.30 388.00,362.20 C391.43,364.85 395.42,367.79 397.80,369.90 C399.28,371.21 400.22,372.01 401.20,373.30 C402.23,374.66 402.89,376.11 403.80,377.90 C405.02,380.30 406.48,383.57 407.70,386.50 C408.95,389.50 410.08,392.56 411.20,395.70 C412.35,398.95 413.42,402.36 414.50,405.70 C415.58,409.03 416.88,412.34 417.70,415.70 C418.51,419.01 418.99,422.02 419.40,425.70 C419.90,430.18 420.03,435.62 420.20,440.70 C420.37,445.95 420.33,451.37 420.40,456.70" fill="none" stroke="#333333" stroke-width="3.0" stroke-linecap="round" stroke-linejoin="round"/>
<path d="M493.08,307.90 L490.03,309.91 L487.08,311.92 L484.24,313.93 L481.50,315.94 L478.86,317.95 L476.31,319.96 L473.86,321.98 L471.50,323.99 L469.22,326.00 L467.03,328.01 L464.93,330.02 L462.91,332.03 L460.96,334.04 L459.09,336.05 L457.30,338.06 L455.58,340.07 L453.92,342.08 L452.34,344.09 L450.81,346.11 L449.35,348.12 L447.95,350.13 L446.61,352.14 L445.32,354.15 L444.08,356.16 L442.90,358.17 L441.76,360.18 L440.66,362.19 L439.61,364.20 L438.60,366.21 L437.63,368.22 L436.69,370.24 L435.79,372.25 L434.92,374.26 L434.08,376.27 L433.28,378.28 L432.51,380.29 L431.77,382.30 L431.06,384.31 L430.38,386.32 L429.73,388.33 L429.10,390.34 L428.51,392.35 L427.94,394.36 L427.40,396.38 L426.88,398.39 L426.39,400.40 L425.92,402.41 L425.48,404.42 L425.05,406.43 L424.65,408.44 L424.27,410.45 L423.91,412.46 L423.57,414.47 L423.25,416.48 L422.95,418.49 L422.66,420.51 L422.39,422.52 L422.13,424.53 L421.90,426.54 L421.67,428.55 L421.46,430.56 L421.26,432.57 L421.08,434.58 L420.90,436.59 L420.74,438.60 L420.58,440.61 L420.44,442.62 L420.30,444.64 L420.17,446.65 L420.05,448.66 L419.94,450.67 L419.83,452.68 L419.72,454.69 L419.62,456.70" fill="none" stroke="#333333" stroke-width="3.0" stroke-linecap="round" stroke-linejoin="round"/>
<path d="M444.98,354.70 C444.85,356.77 445.00,358.88 444.60,360.90 C444.20,362.92 443.23,364.59 442.60,366.80 C441.81,369.55 441.19,373.18 440.40,376.20 C439.65,379.04 438.98,381.47 438.00,384.40 C436.83,387.89 434.91,392.02 433.70,395.70 C432.58,399.11 431.87,402.37 430.90,405.70 C429.93,409.04 428.93,412.37 427.90,415.70 C426.87,419.04 425.66,422.00 424.70,425.70 C423.54,430.17 422.38,435.60 421.70,440.70 C421.00,445.93 420.97,451.37 420.60,456.70" fill="none" stroke="#333333" stroke-width="3.0" stroke-linecap="round" stroke-linejoin="round"/>
<path d="M345.17,320.70 L347.63,322.73 L350.01,324.75 L352.32,326.78 L354.55,328.81 L356.71,330.83 L358.79,332.86 L360.81,334.89 L362.76,336.91 L364.65,338.94 L366.47,340.97 L368.24,343.00 L369.95,345.02 L371.60,347.05 L373.21,349.08 L374.76,351.10 L376.27,353.13 L377.73,355.16 L379.15,357.18 L380.54,359.21 L381.88,361.24 L383.19,363.26 L384.46,365.29 L385.71,367.32 L386.93,369.34 L388.12,371.37 L389.29,373.40 L390.44,375.43 L391.57,377.45 L392.68,379.48 L393.78,381.51 L394.87,383.53 L395.95,385.56 L397.01,387.59 L398.06,389.61 L399.10,391.64 L400.13,393.67 L401.14,395.69 L402.13,397.72 L403.11,399.75 L404.07,401.77 L405.01,403.80 L405.94,405.83 L406.85,407.86 L407.73,409.88 L408.60,411.91 L409.45,413.94 L410.27,415.96 L411.08,417.99 L411.86,420.02 L412.62,422.04 L413.35,424.07 L414.06,426.10 L414.75,428.12 L415.41,430.15 L416.04,432.18 L416.64,434.20 L417.22,436.23 L417.77,438.26 L418.29,440.29 L418.78,442.31 L419.25,444.34 L419.68,446.37 L420.07,448.39 L420.44,450.42 L420.77,452.45 L421.07,454.47 L421.34,456.50" fill="none" stroke="#e82020" stroke-width="3.0" stroke-linecap="round" stroke-linejoin="round"/>
<path d="M376.18,353.00 C380.12,356.00 384.25,359.10 388.00,362.00 C391.43,364.65 395.42,367.59 397.80,369.70 C399.28,371.01 400.22,371.81 401.20,373.10 C402.23,374.46 402.89,375.91 403.80,377.70 C405.02,380.10 406.48,383.37 407.70,386.30 C408.95,389.30 410.08,392.36 411.20,395.50 C412.35,398.75 413.42,402.16 414.50,405.50 C415.58,408.83 416.88,412.14 417.70,415.50 C418.51,418.81 418.99,421.82 419.40,425.50 C419.90,429.98 420.03,435.42 420.20,440.50 C420.37,445.75 420.33,451.17 420.40,456.50" fill="none" stroke="#e82020" stroke-width="3.0" stroke-linecap="round" stroke-linejoin="round"/>
<path d="M493.08,307.70 L490.03,309.71 L487.08,311.72 L484.24,313.73 L481.50,315.74 L478.86,317.75 L476.31,319.76 L473.86,321.78 L471.50,323.79 L469.22,325.80 L467.03,327.81 L464.93,329.82 L462.91,331.83 L460.96,333.84 L459.09,335.85 L457.30,337.86 L455.58,339.87 L453.92,341.88 L452.34,343.89 L450.81,345.91 L449.35,347.92 L447.95,349.93 L446.61,351.94 L445.32,353.95 L444.08,355.96 L442.90,357.97 L441.76,359.98 L440.66,361.99 L439.61,364.00 L438.60,366.01 L437.63,368.02 L436.69,370.04 L435.79,372.05 L434.92,374.06 L434.08,376.07 L433.28,378.08 L432.51,380.09 L431.77,382.10 L431.06,384.11 L430.38,386.12 L429.73,388.13 L429.10,390.14 L428.51,392.15 L427.94,394.16 L427.40,396.18 L426.88,398.19 L426.39,400.20 L425.92,402.21 L425.48,404.22 L425.05,406.23 L424.65,408.24 L424.27,410.25 L423.91,412.26 L423.57,414.27 L423.25,416.28 L422.95,418.29 L422.66,420.31 L422.39,422.32 L422.13,424.33 L421.90,426.34 L421.67,428.35 L421.46,430.36 L421.26,432.37 L421.08,434.38 L420.90,436.39 L420.74,438.40 L420.58,440.41 L420.44,442.42 L420.30,444.44 L420.17,446.45 L420.05,448.46 L419.94,450.47 L419.83,452.48 L419.72,454.49 L419.62,456.50" fill="none" stroke="#e82020" stroke-width="3.0" stroke-linecap="round" stroke-linejoin="round"/>
<path d="M444.98,354.50 C444.85,356.57 445.00,358.68 444.60,360.70 C444.20,362.72 443.23,364.39 442.60,366.60 C441.81,369.35 441.19,372.98 440.40,376.00 C439.65,378.84 438.98,381.27 438.00,384.20 C436.83,387.69 434.91,391.82 433.70,395.50 C432.58,398.91 431.87,402.17 430.90,405.50 C429.93,408.84 428.93,412.17 427.90,415.50 C426.87,418.84 425.66,421.80 424.70,425.50 C423.54,429.97 422.38,435.40 421.70,440.50 C421.00,445.73 420.97,451.17 420.60,456.50" fill="none" stroke="#e82020" stroke-width="3.0" stroke-linecap="round" stroke-linejoin="round"/>
<path d="M345.47,320.70 L347.93,322.73 L350.31,324.75 L352.62,326.78 L354.85,328.81 L357.01,330.83 L359.09,332.86 L361.11,334.89 L363.06,336.91 L364.95,338.94 L366.77,340.97 L368.54,343.00 L370.25,345.02 L371.90,347.05 L373.51,349.08 L375.06,351.10 L376.57,353.13 L378.03,355.16 L379.45,357.18 L380.84,359.21 L382.18,361.24 L383.49,363.26 L384.76,365.29 L386.01,367.32 L387.23,369.34 L388.42,371.37 L389.59,373.40 L390.74,375.43 L391.87,377.45 L392.98,379.48 L394.08,381.51 L395.17,383.53 L396.25,385.56 L397.31,387.59 L398.36,389.61 L399.40,391.64 L400.43,393.67 L401.44,395.69 L402.43,397.72 L403.41,399.75 L404.37,401.77 L405.31,403.80 L406.24,405.83 L407.15,407.86 L408.03,409.88 L408.90,411.91 L409.75,413.94 L410.57,415.96 L411.38,417.99 L412.16,420.02 L412.92,422.04 L413.65,424.07 L414.36,426.10 L415.05,428.12 L415.71,430.15 L416.34,432.18 L416.94,434.20 L417.52,436.23 L418.07,438.26 L418.59,440.29 L419.08,442.31 L419.55,444.34 L419.98,446.37 L420.37,448.39 L420.74,450.42 L421.07,452.45 L421.37,454.47 L421.64,456.50" fill="none" stroke="#1f5fd8" stroke-width="3.0" stroke-linecap="round" stroke-linejoin="round"/>
<path d="M376.48,353.00 C380.42,356.00 384.55,359.10 388.30,362.00 C391.73,364.65 395.72,367.59 398.10,369.70 C399.58,371.01 400.52,371.81 401.50,373.10 C402.53,374.46 403.19,375.91 404.10,377.70 C405.32,380.10 406.78,383.37 408.00,386.30 C409.25,389.30 410.38,392.36 411.50,395.50 C412.65,398.75 413.72,402.16 414.80,405.50 C415.88,408.83 417.18,412.14 418.00,415.50 C418.81,418.81 419.29,421.82 419.70,425.50 C420.20,429.98 420.33,435.42 420.50,440.50 C420.67,445.75 420.63,451.17 420.70,456.50" fill="none" stroke="#1f5fd8" stroke-width="3.0" stroke-linecap="round" stroke-linejoin="round"/>
<path d="M493.38,307.70 L490.33,309.71 L487.38,311.72 L484.54,313.73 L481.80,315.74 L479.16,317.75 L476.61,319.76 L474.16,321.78 L471.80,323.79 L469.52,325.80 L467.33,327.81 L465.23,329.82 L463.21,331.83 L461.26,333.84 L459.39,335.85 L457.60,337.86 L455.88,339.87 L454.22,341.88 L452.64,343.89 L451.11,345.91 L449.65,347.92 L448.25,349.93 L446.91,351.94 L445.62,353.95 L444.38,355.96 L443.20,357.97 L442.06,359.98 L440.96,361.99 L439.91,364.00 L438.90,366.01 L437.93,368.02 L436.99,370.04 L436.09,372.05 L435.22,374.06 L434.38,376.07 L433.58,378.08 L432.81,380.09 L432.07,382.10 L431.36,384.11 L430.68,386.12 L430.03,388.13 L429.40,390.14 L428.81,392.15 L428.24,394.16 L427.70,396.18 L427.18,398.19 L426.69,400.20 L426.22,402.21 L425.78,404.22 L425.35,406.23 L424.95,408.24 L424.57,410.25 L424.21,412.26 L423.87,414.27 L423.55,416.28 L423.25,418.29 L422.96,420.31 L422.69,422.32 L422.43,424.33 L422.20,426.34 L421.97,428.35 L421.76,430.36 L421.56,432.37 L421.38,434.38 L421.20,436.39 L421.04,438.40 L420.88,440.41 L420.74,442.42 L420.60,444.44 L420.47,446.45 L420.35,448.46 L420.24,450.47 L420.13,452.48 L420.02,454.49 L419.92,456.50" fill="none" stroke="#1f5fd8" stroke-width="3.0" stroke-linecap="round" stroke-linejoin="round"/>
<path d="M445.28,354.50 C445.15,356.57 445.30,358.68 444.90,360.70 C444.50,362.72 443.53,364.39 442.90,366.60 C442.11,369.35 441.49,372.98 440.70,376.00 C439.95,378.84 439.28,381.27 438.30,384.20 C437.13,387.69 435.21,391.82 434.00,395.50 C432.88,398.91 432.17,402.17 431.20,405.50 C430.23,408.84 429.23,412.17 428.20,415.50 C427.17,418.84 425.96,421.80 425.00,425.50 C423.84,429.97 422.68,435.40 422.00,440.50 C421.30,445.73 421.27,451.17 420.90,456.50" fill="none" stroke="#1f5fd8" stroke-width="3.0" stroke-linecap="round" stroke-linejoin="round"/>
<path d="M345.17,320.60 L347.63,322.63 L350.01,324.65 L352.32,326.68 L354.55,328.71 L356.71,330.73 L358.79,332.76 L360.81,334.79 L362.76,336.81 L364.65,338.84 L366.47,340.87 L368.24,342.90 L369.95,344.92 L371.60,346.95 L373.21,348.98 L374.76,351.00 L376.27,353.03 L377.73,355.06 L379.15,357.08 L380.54,359.11 L381.88,361.14 L383.19,363.16 L384.46,365.19 L385.71,367.22 L386.93,369.24 L388.12,371.27 L389.29,373.30 L390.44,375.33 L391.57,377.35 L392.68,379.38 L393.78,381.41 L394.87,383.43 L395.95,385.46 L397.01,387.49 L398.06,389.51 L399.10,391.54 L400.13,393.57 L401.14,395.59 L402.13,397.62 L403.11,399.65 L404.07,401.67 L405.01,403.70 L405.94,405.73 L406.85,407.76 L407.73,409.78 L408.60,411.81 L409.45,413.84 L410.27,415.86 L411.08,417.89 L411.86,419.92 L412.62,421.94 L413.35,423.97 L414.06,426.00 L414.75,428.02 L415.41,430.05 L416.04,432.08 L416.64,434.10 L417.22,436.13 L417.77,438.16 L418.29,440.19 L418.78,442.21 L419.25,444.24 L419.68,446.27 L420.07,448.29 L420.44,450.32 L420.77,452.35 L421.07,454.37 L421.34,456.40" fill="none" stroke="#1a9e50" stroke-width="3.0" stroke-linecap="round" stroke-linejoin="round"/>
<path d="M376.18,352.90 C380.12,355.90 384.25,359.00 388.00,361.90 C391.43,364.55 395.42,367.49 397.80,369.60 C399.28,370.91 400.22,371.71 401.20,373.00 C402.23,374.36 402.89,375.81 403.80,377.60 C405.02,380.00 406.48,383.27 407.70,386.20 C408.95,389.20 410.08,392.26 411.20,395.40 C412.35,398.65 413.42,402.06 414.50,405.40 C415.58,408.73 416.88,412.04 417.70,415.40 C418.51,418.71 418.99,421.72 419.40,425.40 C419.90,429.88 420.03,435.32 420.20,440.40 C420.37,445.65 420.33,451.07 420.40,456.40" fill="none" stroke="#1a9e50" stroke-width="3.0" stroke-linecap="round" stroke-linejoin="round"/>
<path d="M493.08,307.60 L490.03,309.61 L487.08,311.62 L484.24,313.63 L481.50,315.64 L478.86,317.65 L476.31,319.66 L473.86,321.68 L471.50,323.69 L469.22,325.70 L467.03,327.71 L464.93,329.72 L462.91,331.73 L460.96,333.74 L459.09,335.75 L457.30,337.76 L455.58,339.77 L453.92,341.78 L452.34,343.79 L450.81,345.81 L449.35,347.82 L447.95,349.83 L446.61,351.84 L445.32,353.85 L444.08,355.86 L442.90,357.87 L441.76,359.88 L440.66,361.89 L439.61,363.90 L438.60,365.91 L437.63,367.92 L436.69,369.94 L435.79,371.95 L434.92,373.96 L434.08,375.97 L433.28,377.98 L432.51,379.99 L431.77,382.00 L431.06,384.01 L430.38,386.02 L429.73,388.03 L429.10,390.04 L428.51,392.05 L427.94,394.06 L427.40,396.08 L426.88,398.09 L426.39,400.10 L425.92,402.11 L425.48,404.12 L425.05,406.13 L424.65,408.14 L424.27,410.15 L423.91,412.16 L423.57,414.17 L423.25,416.18 L422.95,418.19 L422.66,420.21 L422.39,422.22 L422.13,424.23 L421.90,426.24 L421.67,428.25 L421.46,430.26 L421.26,432.27 L421.08,434.28 L420.90,436.29 L420.74,438.30 L420.58,440.31 L420.44,442.32 L420.30,444.34 L420.17,446.35 L420.05,448.36 L419.94,450.37 L419.83,452.38 L419.72,454.39 L419.62,456.40" fill="none" stroke="#1a9e50" stroke-width="3.0" stroke-linecap="round" stroke-linejoin="round"/>
<path d="M444.98,354.40 C444.85,356.47 445.00,358.58 444.60,360.60 C444.20,362.62 443.23,364.29 442.60,366.50 C441.81,369.25 441.19,372.88 440.40,375.90 C439.65,378.74 438.98,381.17 438.00,384.10 C436.83,387.59 434.91,391.72 433.70,395.40 C432.58,398.81 431.87,402.07 430.90,405.40 C429.93,408.74 428.93,412.07 427.90,415.40 C426.87,418.74 425.66,421.70 424.70,425.40 C423.54,429.87 422.38,435.30 421.70,440.40 C421.00,445.63 420.97,451.07 420.60,456.40" fill="none" stroke="#1a9e50" stroke-width="3.0" stroke-linecap="round" stroke-linejoin="round"/>
<path d="M344.97,320.90 L347.43,322.93 L349.81,324.95 L352.12,326.98 L354.35,329.01 L356.51,331.03 L358.59,333.06 L360.61,335.09 L362.56,337.11 L364.45,339.14 L366.27,341.17 L368.04,343.20 L369.75,345.22 L371.40,347.25 L373.01,349.28 L374.56,351.30 L376.07,353.33 L377.53,355.36 L378.95,357.38 L380.34,359.41 L381.68,361.44 L382.99,363.46 L384.26,365.49 L385.51,367.52 L386.73,369.54 L387.92,371.57 L389.09,373.60 L390.24,375.63 L391.37,377.65 L392.48,379.68 L393.58,381.71 L394.67,383.73 L395.75,385.76 L396.81,387.79 L397.86,389.81 L398.90,391.84 L399.93,393.87 L400.94,395.89 L401.93,397.92 L402.91,399.95 L403.87,401.97 L404.81,404.00 L405.74,406.03 L406.65,408.06 L407.53,410.08 L408.40,412.11 L409.25,414.14 L410.07,416.16 L410.88,418.19 L411.66,420.22 L412.42,422.24 L413.15,424.27 L413.86,426.30 L414.55,428.32 L415.21,430.35 L415.84,432.38 L416.44,434.40 L417.02,436.43 L417.57,438.46 L418.09,440.49 L418.58,442.51 L419.05,444.54 L419.48,446.57 L419.87,448.59 L420.24,450.62 L420.57,452.65 L420.87,454.67 L421.14,456.70" fill="none" stroke="#a070e0" stroke-width="3.0" stroke-linecap="round" stroke-linejoin="round"/>
<path d="M375.98,353.20 C379.92,356.20 384.05,359.30 387.80,362.20 C391.23,364.85 395.22,367.79 397.60,369.90 C399.08,371.21 400.02,372.01 401.00,373.30 C402.03,374.66 402.69,376.11 403.60,377.90 C404.82,380.30 406.28,383.57 407.50,386.50 C408.75,389.50 409.88,392.56 411.00,395.70 C412.15,398.95 413.22,402.36 414.30,405.70 C415.38,409.03 416.68,412.34 417.50,415.70 C418.31,419.01 418.79,422.02 419.20,425.70 C419.70,430.18 419.83,435.62 420.00,440.70 C420.17,445.95 420.13,451.37 420.20,456.70" fill="none" stroke="#a070e0" stroke-width="3.0" stroke-linecap="round" stroke-linejoin="round"/>
<path d="M492.88,307.90 L489.83,309.91 L486.88,311.92 L484.04,313.93 L481.30,315.94 L478.66,317.95 L476.11,319.96 L473.66,321.98 L471.30,323.99 L469.02,326.00 L466.83,328.01 L464.73,330.02 L462.71,332.03 L460.76,334.04 L458.89,336.05 L457.10,338.06 L455.38,340.07 L453.72,342.08 L452.14,344.09 L450.61,346.11 L449.15,348.12 L447.75,350.13 L446.41,352.14 L445.12,354.15 L443.88,356.16 L442.70,358.17 L441.56,360.18 L440.46,362.19 L439.41,364.20 L438.40,366.21 L437.43,368.22 L436.49,370.24 L435.59,372.25 L434.72,374.26 L433.88,376.27 L433.08,378.28 L432.31,380.29 L431.57,382.30 L430.86,384.31 L430.18,386.32 L429.53,388.33 L428.90,390.34 L428.31,392.35 L427.74,394.36 L427.20,396.38 L426.68,398.39 L426.19,400.40 L425.72,402.41 L425.28,404.42 L424.85,406.43 L424.45,408.44 L424.07,410.45 L423.71,412.46 L423.37,414.47 L423.05,416.48 L422.75,418.49 L422.46,420.51 L422.19,422.52 L421.93,424.53 L421.70,426.54 L421.47,428.55 L421.26,430.56 L421.06,432.57 L420.88,434.58 L420.70,436.59 L420.54,438.60 L420.38,440.61 L420.24,442.62 L420.10,444.64 L419.97,446.65 L419.85,448.66 L419.74,450.67 L419.63,452.68 L419.52,454.69 L419.42,456.70" fill="none" stroke="#a070e0" stroke-width="3.0" stroke-linecap="round" stroke-linejoin="round"/>
<path d="M444.78,354.70 C444.65,356.77 444.80,358.88 444.40,360.90 C444.00,362.92 443.03,364.59 442.40,366.80 C441.61,369.55 440.99,373.18 440.20,376.20 C439.45,379.04 438.78,381.47 437.80,384.40 C436.63,387.89 434.71,392.02 433.50,395.70 C432.38,399.11 431.67,402.37 430.70,405.70 C429.73,409.04 428.73,412.37 427.70,415.70 C426.67,419.04 425.46,422.00 424.50,425.70 C423.34,430.17 422.18,435.60 421.50,440.70 C420.80,445.93 420.77,451.37 420.40,456.70" fill="none" stroke="#a070e0" stroke-width="3.0" stroke-linecap="round" stroke-linejoin="round"/>
<path d="M345.17,320.50 L347.63,322.53 L350.01,324.55 L352.32,326.58 L354.55,328.61 L356.71,330.63 L358.79,332.66 L360.81,334.69 L362.76,336.71 L364.65,338.74 L366.47,340.77 L368.24,342.80 L369.95,344.82 L371.60,346.85 L373.21,348.88 L374.76,350.90 L376.27,352.93 L377.73,354.96 L379.15,356.98 L380.54,359.01 L381.88,361.04 L383.19,363.06 L384.46,365.09 L385.71,367.12 L386.93,369.14 L388.12,371.17 L389.29,373.20 L390.44,375.23 L391.57,377.25 L392.68,379.28 L393.78,381.31 L394.87,383.33 L395.95,385.36 L397.01,387.39 L398.06,389.41 L399.10,391.44 L400.13,393.47 L401.14,395.49 L402.13,397.52 L403.11,399.55 L404.07,401.57 L405.01,403.60 L405.94,405.63 L406.85,407.66 L407.73,409.68 L408.60,411.71 L409.45,413.74 L410.27,415.76 L411.08,417.79 L411.86,419.82 L412.62,421.84 L413.35,423.87 L414.06,425.90 L414.75,427.92 L415.41,429.95 L416.04,431.98 L416.64,434.00 L417.22,436.03 L417.77,438.06 L418.29,440.09 L418.78,442.11 L419.25,444.14 L419.68,446.17 L420.07,448.19 L420.44,450.22 L420.77,452.25 L421.07,454.27 L421.34,456.30" fill="none" stroke="#d09020" stroke-width="3.0" stroke-linecap="round" stroke-linejoin="round"/>
<path d="M376.18,352.80 C380.12,355.80 384.25,358.90 388.00,361.80 C391.43,364.45 395.42,367.39 397.80,369.50 C399.28,370.81 400.22,371.61 401.20,372.90 C402.23,374.26 402.89,375.71 403.80,377.50 C405.02,379.90 406.48,383.17 407.70,386.10 C408.95,389.10 410.08,392.16 411.20,395.30 C412.35,398.55 413.42,401.96 414.50,405.30 C415.58,408.63 416.88,411.94 417.70,415.30 C418.51,418.61 418.99,421.62 419.40,425.30 C419.90,429.78 420.03,435.22 420.20,440.30 C420.37,445.55 420.33,450.97 420.40,456.30" fill="none" stroke="#d09020" stroke-width="3.0" stroke-linecap="round" stroke-linejoin="round"/>
<path d="M493.08,307.50 L490.03,309.51 L487.08,311.52 L484.24,313.53 L481.50,315.54 L478.86,317.55 L476.31,319.56 L473.86,321.58 L471.50,323.59 L469.22,325.60 L467.03,327.61 L464.93,329.62 L462.91,331.63 L460.96,333.64 L459.09,335.65 L457.30,337.66 L455.58,339.67 L453.92,341.68 L452.34,343.69 L450.81,345.71 L449.35,347.72 L447.95,349.73 L446.61,351.74 L445.32,353.75 L444.08,355.76 L442.90,357.77 L441.76,359.78 L440.66,361.79 L439.61,363.80 L438.60,365.81 L437.63,367.82 L436.69,369.84 L435.79,371.85 L434.92,373.86 L434.08,375.87 L433.28,377.88 L432.51,379.89 L431.77,381.90 L431.06,383.91 L430.38,385.92 L429.73,387.93 L429.10,389.94 L428.51,391.95 L427.94,393.96 L427.40,395.98 L426.88,397.99 L426.39,400.00 L425.92,402.01 L425.48,404.02 L425.05,406.03 L424.65,408.04 L424.27,410.05 L423.91,412.06 L423.57,414.07 L423.25,416.08 L422.95,418.09 L422.66,420.11 L422.39,422.12 L422.13,424.13 L421.90,426.14 L421.67,428.15 L421.46,430.16 L421.26,432.17 L421.08,434.18 L420.90,436.19 L420.74,438.20 L420.58,440.21 L420.44,442.22 L420.30,444.24 L420.17,446.25 L420.05,448.26 L419.94,450.27 L419.83,452.28 L419.72,454.29 L419.62,456.30" fill="none" stroke="#d09020" stroke-width="3.0" stroke-linecap="round" stroke-linejoin="round"/>
<path d="M444.98,354.30 C444.85,356.37 445.00,358.48 444.60,360.50 C444.20,362.52 443.23,364.19 442.60,366.40 C441.81,369.15 441.19,372.78 440.40,375.80 C439.65,378.64 438.98,381.07 438.00,384.00 C436.83,387.49 434.91,391.62 433.70,395.30 C432.58,398.71 431.87,401.97 430.90,405.30 C429.93,408.64 428.93,411.97 427.90,415.30 C426.87,418.64 425.66,421.60 424.70,425.30 C423.54,429.77 422.38,435.20 421.70,440.30 C421.00,445.53 420.97,450.97 420.60,456.30" fill="none" stroke="#d09020" stroke-width="3.0" stroke-linecap="round" stroke-linejoin="round"/>
<path d="M345.57,320.60 L348.03,322.63 L350.41,324.65 L352.72,326.68 L354.95,328.71 L357.11,330.73 L359.19,332.76 L361.21,334.79 L363.16,336.81 L365.05,338.84 L366.87,340.87 L368.64,342.90 L370.35,344.92 L372.00,346.95 L373.61,348.98 L375.16,351.00 L376.67,353.03 L378.13,355.06 L379.55,357.08 L380.94,359.11 L382.28,361.14 L383.59,363.16 L384.86,365.19 L386.11,367.22 L387.33,369.24 L388.52,371.27 L389.69,373.30 L390.84,375.33 L391.97,377.35 L393.08,379.38 L394.18,381.41 L395.27,383.43 L396.35,385.46 L397.41,387.49 L398.46,389.51 L399.50,391.54 L400.53,393.57 L401.54,395.59 L402.53,397.62 L403.51,399.65 L404.47,401.67 L405.41,403.70 L406.34,405.73 L407.25,407.76 L408.13,409.78 L409.00,411.81 L409.85,413.84 L410.67,415.86 L411.48,417.89 L412.26,419.92 L413.02,421.94 L413.75,423.97 L414.46,426.00 L415.15,428.02 L415.81,430.05 L416.44,432.08 L417.04,434.10 L417.62,436.13 L418.17,438.16 L418.69,440.19 L419.18,442.21 L419.65,444.24 L420.08,446.27 L420.47,448.29 L420.84,450.32 L421.17,452.35 L421.47,454.37 L421.74,456.40" fill="none" stroke="#20c0d0" stroke-width="3.0" stroke-linecap="round" stroke-linejoin="round"/>
<path d="M376.58,352.90 C380.52,355.90 384.65,359.00 388.40,361.90 C391.83,364.55 395.82,367.49 398.20,369.60 C399.68,370.91 400.62,371.71 401.60,373.00 C402.63,374.36 403.29,375.81 404.20,377.60 C405.42,380.00 406.88,383.27 408.10,386.20 C409.35,389.20 410.48,392.26 411.60,395.40 C412.75,398.65 413.82,402.06 414.90,405.40 C415.98,408.73 417.28,412.04 418.10,415.40 C418.91,418.71 419.39,421.72 419.80,425.40 C420.30,429.88 420.43,435.32 420.60,440.40 C420.77,445.65 420.73,451.07 420.80,456.40" fill="none" stroke="#20c0d0" stroke-width="3.0" stroke-linecap="round" stroke-linejoin="round"/>
<path d="M493.48,307.60 L490.43,309.61 L487.48,311.62 L484.64,313.63 L481.90,315.64 L479.26,317.65 L476.71,319.66 L474.26,321.68 L471.90,323.69 L469.62,325.70 L467.43,327.71 L465.33,329.72 L463.31,331.73 L461.36,333.74 L459.49,335.75 L457.70,337.76 L455.98,339.77 L454.32,341.78 L452.74,343.79 L451.21,345.81 L449.75,347.82 L448.35,349.83 L447.01,351.84 L445.72,353.85 L444.48,355.86 L443.30,357.87 L442.16,359.88 L441.06,361.89 L440.01,363.90 L439.00,365.91 L438.03,367.92 L437.09,369.94 L436.19,371.95 L435.32,373.96 L434.48,375.97 L433.68,377.98 L432.91,379.99 L432.17,382.00 L431.46,384.01 L430.78,386.02 L430.13,388.03 L429.50,390.04 L428.91,392.05 L428.34,394.06 L427.80,396.08 L427.28,398.09 L426.79,400.10 L426.32,402.11 L425.88,404.12 L425.45,406.13 L425.05,408.14 L424.67,410.15 L424.31,412.16 L423.97,414.17 L423.65,416.18 L423.35,418.19 L423.06,420.21 L422.79,422.22 L422.53,424.23 L422.30,426.24 L422.07,428.25 L421.86,430.26 L421.66,432.27 L421.48,434.28 L421.30,436.29 L421.14,438.30 L420.98,440.31 L420.84,442.32 L420.70,444.34 L420.57,446.35 L420.45,448.36 L420.34,450.37 L420.23,452.38 L420.12,454.39 L420.02,456.40" fill="none" stroke="#20c0d0" stroke-width="3.0" stroke-linecap="round" stroke-linejoin="round"/>
<path d="M445.38,354.40 C445.25,356.47 445.40,358.58 445.00,360.60 C444.60,362.62 443.63,364.29 443.00,366.50 C442.21,369.25 441.59,372.88 440.80,375.90 C440.05,378.74 439.38,381.17 438.40,384.10 C437.23,387.59 435.31,391.72 434.10,395.40 C432.98,398.81 432.27,402.07 431.30,405.40 C430.33,408.74 429.33,412.07 428.30,415.40 C427.27,418.74 426.06,421.70 425.10,425.40 C423.94,429.87 422.78,435.30 422.10,440.40 C421.40,445.63 421.37,451.07 421.00,456.40" fill="none" stroke="#20c0d0" stroke-width="3.0" stroke-linecap="round" stroke-linejoin="round"/>
<path d="M344.87,321.00 L347.33,323.03 L349.71,325.05 L352.02,327.08 L354.25,329.11 L356.41,331.13 L358.49,333.16 L360.51,335.19 L362.46,337.21 L364.35,339.24 L366.17,341.27 L367.94,343.30 L369.65,345.32 L371.30,347.35 L372.91,349.38 L374.46,351.40 L375.97,353.43 L377.43,355.46 L378.85,357.48 L380.24,359.51 L381.58,361.54 L382.89,363.56 L384.16,365.59 L385.41,367.62 L386.63,369.64 L387.82,371.67 L388.99,373.70 L390.14,375.73 L391.27,377.75 L392.38,379.78 L393.48,381.81 L394.57,383.83 L395.65,385.86 L396.71,387.89 L397.76,389.91 L398.80,391.94 L399.83,393.97 L400.84,395.99 L401.83,398.02 L402.81,400.05 L403.77,402.07 L404.71,404.10 L405.64,406.13 L406.55,408.16 L407.43,410.18 L408.30,412.21 L409.15,414.24 L409.97,416.26 L410.78,418.29 L411.56,420.32 L412.32,422.34 L413.05,424.37 L413.76,426.40 L414.45,428.42 L415.11,430.45 L415.74,432.48 L416.34,434.50 L416.92,436.53 L417.47,438.56 L417.99,440.59 L418.48,442.61 L418.95,444.64 L419.38,446.67 L419.77,448.69 L420.14,450.72 L420.47,452.75 L420.77,454.77 L421.04,456.80" fill="none" stroke="#6b2020" stroke-width="3.0" stroke-linecap="round" stroke-linejoin="round"/>
<path d="M375.88,353.30 C379.82,356.30 383.95,359.40 387.70,362.30 C391.13,364.95 395.12,367.89 397.50,370.00 C398.98,371.31 399.92,372.11 400.90,373.40 C401.93,374.76 402.59,376.21 403.50,378.00 C404.72,380.40 406.18,383.67 407.40,386.60 C408.65,389.60 409.78,392.66 410.90,395.80 C412.05,399.05 413.12,402.46 414.20,405.80 C415.28,409.13 416.58,412.44 417.40,415.80 C418.21,419.11 418.69,422.12 419.10,425.80 C419.60,430.28 419.73,435.72 419.90,440.80 C420.07,446.05 420.03,451.47 420.10,456.80" fill="none" stroke="#6b2020" stroke-width="3.0" stroke-linecap="round" stroke-linejoin="round"/>
<path d="M492.78,308.00 L489.73,310.01 L486.78,312.02 L483.94,314.03 L481.20,316.04 L478.56,318.05 L476.01,320.06 L473.56,322.08 L471.20,324.09 L468.92,326.10 L466.73,328.11 L464.63,330.12 L462.61,332.13 L460.66,334.14 L458.79,336.15 L457.00,338.16 L455.28,340.17 L453.62,342.18 L452.04,344.19 L450.51,346.21 L449.05,348.22 L447.65,350.23 L446.31,352.24 L445.02,354.25 L443.78,356.26 L442.60,358.27 L441.46,360.28 L440.36,362.29 L439.31,364.30 L438.30,366.31 L437.33,368.32 L436.39,370.34 L435.49,372.35 L434.62,374.36 L433.78,376.37 L432.98,378.38 L432.21,380.39 L431.47,382.40 L430.76,384.41 L430.08,386.42 L429.43,388.43 L428.80,390.44 L428.21,392.45 L427.64,394.46 L427.10,396.48 L426.58,398.49 L426.09,400.50 L425.62,402.51 L425.18,404.52 L424.75,406.53 L424.35,408.54 L423.97,410.55 L423.61,412.56 L423.27,414.57 L422.95,416.58 L422.65,418.59 L422.36,420.61 L422.09,422.62 L421.83,424.63 L421.60,426.64 L421.37,428.65 L421.16,430.66 L420.96,432.67 L420.78,434.68 L420.60,436.69 L420.44,438.70 L420.28,440.71 L420.14,442.72 L420.00,444.74 L419.87,446.75 L419.75,448.76 L419.64,450.77 L419.53,452.78 L419.42,454.79 L419.32,456.80" fill="none" stroke="#6b2020" stroke-width="3.0" stroke-linecap="round" stroke-linejoin="round"/>
<path d="M444.68,354.80 C444.55,356.87 444.70,358.98 444.30,361.00 C443.90,363.02 442.93,364.69 442.30,366.90 C441.51,369.65 440.89,373.28 440.10,376.30 C439.35,379.14 438.68,381.57 437.70,384.50 C436.53,387.99 434.61,392.12 433.40,395.80 C432.28,399.21 431.57,402.47 430.60,405.80 C429.63,409.14 428.63,412.47 427.60,415.80 C426.57,419.14 425.36,422.10 424.40,425.80 C423.24,430.27 422.08,435.70 421.40,440.80 C420.70,446.03 420.67,451.47 420.30,456.80" fill="none" stroke="#6b2020" stroke-width="3.0" stroke-linecap="round" stroke-linejoin="round"/>
<path d="M345.17,320.20 L347.63,322.23 L350.01,324.25 L352.32,326.28 L354.55,328.31 L356.71,330.33 L358.79,332.36 L360.81,334.39 L362.76,336.41 L364.65,338.44 L366.47,340.47 L368.24,342.50 L369.95,344.52 L371.60,346.55 L373.21,348.58 L374.76,350.60 L376.27,352.63 L377.73,354.66 L379.15,356.68 L380.54,358.71 L381.88,360.74 L383.19,362.76 L384.46,364.79 L385.71,366.82 L386.93,368.84 L388.12,370.87 L389.29,372.90 L390.44,374.93 L391.57,376.95 L392.68,378.98 L393.78,381.01 L394.87,383.03 L395.95,385.06 L397.01,387.09 L398.06,389.11 L399.10,391.14 L400.13,393.17 L401.14,395.19 L402.13,397.22 L403.11,399.25 L404.07,401.27 L405.01,403.30 L405.94,405.33 L406.85,407.36 L407.73,409.38 L408.60,411.41 L409.45,413.44 L410.27,415.46 L411.08,417.49 L411.86,419.52 L412.62,421.54 L413.35,423.57 L414.06,425.60 L414.75,427.62 L415.41,429.65 L416.04,431.68 L416.64,433.70 L417.22,435.73 L417.77,437.76 L418.29,439.79 L418.78,441.81 L419.25,443.84 L419.68,445.87 L420.07,447.89 L420.44,449.92 L420.77,451.95 L421.07,453.97 L421.34,456.00" fill="none" stroke="#929216" stroke-width="3.3" stroke-linecap="round" stroke-linejoin="round"/>
<path d="M376.18,352.50 C380.12,355.50 384.25,358.60 388.00,361.50 C391.43,364.15 395.42,367.09 397.80,369.20 C399.28,370.51 400.22,371.31 401.20,372.60 C402.23,373.96 402.89,375.41 403.80,377.20 C405.02,379.60 406.48,382.87 407.70,385.80 C408.95,388.80 410.08,391.86 411.20,395.00 C412.35,398.25 413.42,401.66 414.50,405.00 C415.58,408.33 416.88,411.64 417.70,415.00 C418.51,418.31 418.99,421.32 419.40,425.00 C419.90,429.48 420.03,434.92 420.20,440.00 C420.37,445.25 420.33,450.67 420.40,456.00" fill="none" stroke="#929216" stroke-width="3.3" stroke-linecap="round" stroke-linejoin="round"/>
<path d="M493.08,307.20 L490.03,309.21 L487.08,311.22 L484.24,313.23 L481.50,315.24 L478.86,317.25 L476.31,319.26 L473.86,321.28 L471.50,323.29 L469.22,325.30 L467.03,327.31 L464.93,329.32 L462.91,331.33 L460.96,333.34 L459.09,335.35 L457.30,337.36 L455.58,339.37 L453.92,341.38 L452.34,343.39 L450.81,345.41 L449.35,347.42 L447.95,349.43 L446.61,351.44 L445.32,353.45 L444.08,355.46 L442.90,357.47 L441.76,359.48 L440.66,361.49 L439.61,363.50 L438.60,365.51 L437.63,367.52 L436.69,369.54 L435.79,371.55 L434.92,373.56 L434.08,375.57 L433.28,377.58 L432.51,379.59 L431.77,381.60 L431.06,383.61 L430.38,385.62 L429.73,387.63 L429.10,389.64 L428.51,391.65 L427.94,393.66 L427.40,395.68 L426.88,397.69 L426.39,399.70 L425.92,401.71 L425.48,403.72 L425.05,405.73 L424.65,407.74 L424.27,409.75 L423.91,411.76 L423.57,413.77 L423.25,415.78 L422.95,417.79 L422.66,419.81 L422.39,421.82 L422.13,423.83 L421.90,425.84 L421.67,427.85 L421.46,429.86 L421.26,431.87 L421.08,433.88 L420.90,435.89 L420.74,437.90 L420.58,439.91 L420.44,441.92 L420.30,443.94 L420.17,445.95 L420.05,447.96 L419.94,449.97 L419.83,451.98 L419.72,453.99 L419.62,456.00" fill="none" stroke="#929216" stroke-width="3.3" stroke-linecap="round" stroke-linejoin="round"/>
<path d="M444.98,354.00 C444.85,356.07 445.00,358.18 444.60,360.20 C444.20,362.22 443.23,363.89 442.60,366.10 C441.81,368.85 441.19,372.48 440.40,375.50 C439.65,378.34 438.98,380.77 438.00,383.70 C436.83,387.19 434.91,391.32 433.70,395.00 C432.58,398.41 431.87,401.67 430.90,405.00 C429.93,408.34 428.93,411.67 427.90,415.00 C426.87,418.34 425.66,421.30 424.70,425.00 C423.54,429.47 422.38,434.90 421.70,440.00 C421.00,445.23 420.97,450.67 420.60,456.00" fill="none" stroke="#929216" stroke-width="3.3" stroke-linecap="round" stroke-linejoin="round"/>
<g fill="none" stroke="#000" stroke-width="1.6">
<rect x="401.8" y="311" width="20.4" height="48.7" rx="1.5"/>
<line x1="393.3" y1="319" x2="426.5" y2="319" stroke-width="2"/>
<line x1="385.3" y1="335.3" x2="438.5" y2="335.3"/>
<polygon points="363.7,386.5 383.8,394.6 383.8,442.8 363.7,434.6"/>
<line x1="355.3" y1="402.2" x2="391" y2="402.2"/>
<path d="M347,418.4 L355,418.4 C360,418.4 362.5,415 363.7,410.5"/>
<line x1="383.8" y1="418.4" x2="400.2" y2="418.4"/>
</g>
<polygon points="424.2,314.6 430.4,319 424.2,323.3 425.4,319" fill="#000"/>
<polygon points="404.2,335 410.3,329.2 410.3,332.3 420,332.3 420,337.7 410.3,337.7 410.3,340.8" fill="#f2302a"/>
<line x1="406" y1="335" x2="420" y2="335" stroke="#5a1010" stroke-width="1.2" stroke-dasharray="1.2 1.2"/>
<polygon points="382,418.5 375.2,412.9 375.2,415.8 365.8,415.8 365.8,421.1 375.2,421.1 375.2,424.1" fill="#1f6fe8"/>
<line x1="366" y1="418.5" x2="380" y2="418.5" stroke="#0a2050" stroke-width="1.2" stroke-dasharray="1.2 1.2"/>
<text x="381.8" y="315.8" font-family='"Liberation Sans", sans-serif' font-weight="bold" font-size="22" stroke="#000" stroke-width="0.5">e</text>
<rect x="395.6" y="303.6" width="4.2" height="2.0" fill="#000"/>
<text x="343.8" y="399.6" font-family='"Liberation Sans", sans-serif' font-weight="bold" font-size="22.5" stroke="#000" stroke-width="0.5">e</text>
<rect x="357.4" y="386.9" width="4.2" height="2.0" fill="#000"/>
<line x1="510.3" y1="295.20" x2="524.7" y2="295.20" stroke="#222222" stroke-width="2.6"/>
<text x="533.3" y="299.20" font-family='"Liberation Sans", sans-serif' font-size="11.6">100<tspan font-size="8.7" dy="-4.6">2</tspan></text>
<line x1="510.3" y1="310.92" x2="524.7" y2="310.92" stroke="#ee1c24" stroke-width="2.6"/>
<text x="533.3" y="314.92" font-family='"Liberation Sans", sans-serif' font-size="11.6">90<tspan font-size="8.7" dy="-4.6">2</tspan></text>
<line x1="510.3" y1="326.64" x2="524.7" y2="326.64" stroke="#1f5fd8" stroke-width="2.6"/>
<text x="533.3" y="330.64" font-family='"Liberation Sans", sans-serif' font-size="11.6">80<tspan font-size="8.7" dy="-4.6">2</tspan></text>
<line x1="510.3" y1="342.36" x2="524.7" y2="342.36" stroke="#15a04a" stroke-width="2.6"/>
<text x="533.3" y="346.36" font-family='"Liberation Sans", sans-serif' font-size="11.6">70<tspan font-size="8.7" dy="-4.6">2</tspan></text>
<line x1="510.3" y1="358.08" x2="524.7" y2="358.08" stroke="#a070e0" stroke-width="2.6"/>
<text x="533.3" y="362.08" font-family='"Liberation Sans", sans-serif' font-size="11.6">60<tspan font-size="8.7" dy="-4.6">2</tspan></text>
<line x1="510.3" y1="373.80" x2="524.7" y2="373.80" stroke="#d08a1c" stroke-width="2.6"/>
<text x="533.3" y="377.80" font-family='"Liberation Sans", sans-serif' font-size="11.6">50<tspan font-size="8.7" dy="-4.6">2</tspan></text>
<line x1="510.3" y1="389.52" x2="524.7" y2="389.52" stroke="#22c4d4" stroke-width="2.6"/>
<text x="533.3" y="393.52" font-family='"Liberation Sans", sans-serif' font-size="11.6">40<tspan font-size="8.7" dy="-4.6">2</tspan></text>
<line x1="510.3" y1="405.24" x2="524.7" y2="405.24" stroke="#6b1e24" stroke-width="2.6"/>
<text x="533.3" y="409.24" font-family='"Liberation Sans", sans-serif' font-size="11.6">30<tspan font-size="8.7" dy="-4.6">2</tspan></text>
<line x1="510.3" y1="420.96" x2="524.7" y2="420.96" stroke="#7f7f10" stroke-width="2.6"/>
<text x="533.3" y="424.96" font-family='"Liberation Sans", sans-serif' font-size="11.6">20<tspan font-size="8.7" dy="-4.6">2</tspan><tspan dx="3" dy="4.6">μm</tspan><tspan font-size="8.7" dy="-4.6">2</tspan></text>
</svg>
</body></html>
